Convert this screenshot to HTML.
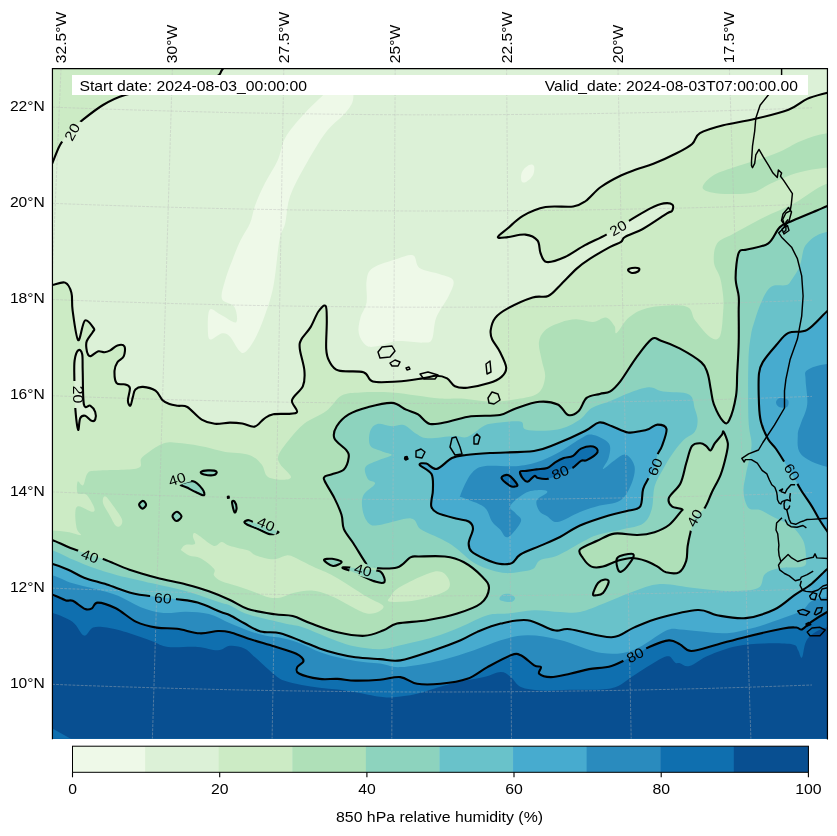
<!DOCTYPE html><html><head><meta charset="utf-8"><style>html,body{margin:0;padding:0;background:#fff;}svg{display:block;will-change:transform;}text{font-family:"Liberation Sans",sans-serif;}</style></head><body>
<svg width="837" height="836" viewBox="0 0 837 836">
<rect width="837" height="836" fill="#fff"/>
<defs><clipPath id="mc"><rect x="52.5" y="68.5" width="774.8" height="670.2"/></clipPath>
<mask id="lm" maskUnits="userSpaceOnUse" x="0" y="0" width="837" height="836"><rect width="837" height="836" fill="#fff"/><rect x="-13" y="-6.5" width="26" height="13" fill="#000" transform="translate(72,132) rotate(-62)"/><rect x="-13" y="-6.5" width="26" height="13" fill="#000" transform="translate(618,228) rotate(-30)"/><rect x="72" y="381" width="5.5" height="27" fill="#000"/><rect x="-13" y="-6.5" width="26" height="13" fill="#000" transform="translate(177,479) rotate(-18)"/><rect x="-13" y="-6.5" width="26" height="13" fill="#000" transform="translate(266,524) rotate(22)"/><rect x="-13" y="-6.5" width="26" height="13" fill="#000" transform="translate(90,556) rotate(20)"/><rect x="-13" y="-6.5" width="26" height="13" fill="#000" transform="translate(363,570) rotate(15)"/><rect x="-13" y="-6.5" width="26" height="13" fill="#000" transform="translate(694.5,518) rotate(-62)"/><rect x="-13" y="-6.5" width="26" height="13" fill="#000" transform="translate(163,598) rotate(5)"/><rect x="-13" y="-6.5" width="26" height="13" fill="#000" transform="translate(655,467) rotate(-68)"/><rect x="-13" y="-6.5" width="26" height="13" fill="#000" transform="translate(792,472) rotate(60)"/><rect x="-13" y="-6.5" width="26" height="13" fill="#000" transform="translate(560.2,472.3) rotate(-22)"/><rect x="-13" y="-6.5" width="26" height="13" fill="#000" transform="translate(635,655) rotate(-27)"/></mask>
</defs>
<g clip-path="url(#mc)">
<rect x="52.5" y="68.5" width="774.8" height="670.2" fill="#ccebc5"/>
<path d="M48.0,172.0C50.0,170.7 50.0,168.5 52.0,164.0C54.0,159.5 57.0,150.5 60.0,145.0C63.0,139.5 66.7,134.8 70.0,131.0C73.3,127.2 74.5,126.3 80.0,122.0C85.5,117.7 95.5,109.5 103.0,105.0C110.5,100.5 115.5,97.8 125.0,95.0C134.5,92.2 145.5,90.8 160.0,88.0C174.5,85.2 201.7,81.0 212.0,78.0C222.3,75.0 219.7,72.7 222.0,70.0C224.3,67.3 225.3,67.0 226.0,62.0C226.7,57.0 120.3,43.7 226.0,40.0C331.7,36.3 754.3,31.5 860.0,40.0C965.7,48.5 864.7,82.5 860.0,91.0C855.3,99.5 837.4,90.7 832.0,91.0C826.6,91.3 831.5,91.4 827.4,92.7C823.3,94.0 813.7,96.1 807.2,98.9C800.7,101.8 797.3,106.4 788.5,109.8C779.7,113.2 765.2,116.5 754.3,119.1C743.4,121.7 732.3,123.0 723.2,125.3C714.1,127.6 705.1,130.0 699.9,133.1C694.7,136.2 696.0,140.6 692.1,144.0C688.2,147.4 682.9,150.1 676.5,153.3C670.1,156.6 660.8,160.8 654.0,163.5C647.2,166.2 641.5,167.5 636.0,169.5C630.5,171.5 626.8,172.6 620.9,175.5C615.0,178.4 606.7,182.8 600.8,187.0C594.9,191.2 590.3,197.8 585.7,201.0C581.1,204.2 579.9,205.5 573.2,206.5C566.5,207.5 553.9,205.4 545.5,207.0C537.1,208.6 529.2,212.2 522.9,215.8C516.6,219.4 512.0,224.8 507.8,228.3C503.6,231.9 497.8,235.6 497.8,237.1C497.8,238.6 503.2,237.5 507.8,237.1C512.4,236.7 520.4,234.0 525.4,234.6C530.4,235.2 535.0,237.4 537.5,240.5C540.0,243.6 539.0,249.4 540.5,253.0C542.0,256.6 542.6,261.3 546.7,262.0C550.8,262.7 558.6,259.8 565.0,257.0C571.4,254.2 578.0,249.0 585.0,245.2C592.0,241.4 599.3,238.5 606.8,234.3C614.3,230.1 623.0,224.4 630.2,220.1C637.5,215.8 644.7,211.2 650.3,208.4C655.9,205.6 660.0,204.0 663.7,203.4C667.4,202.8 671.1,203.4 672.5,204.7C673.9,206.0 672.9,209.6 672.0,211.0C671.1,212.4 671.7,210.5 667.0,213.4C662.3,216.3 650.6,224.6 643.6,228.5C636.6,232.4 629.0,234.7 625.2,236.9C621.4,239.1 623.5,240.2 621.0,241.9C618.5,243.6 615.4,244.1 610.2,246.9C605.1,249.7 595.7,255.0 590.1,258.6C584.5,262.2 581.7,264.1 576.7,268.6C571.7,273.1 564.8,280.8 560.0,285.4C555.2,290.0 552.8,294.0 548.2,296.0C543.6,298.0 539.3,295.4 532.6,297.5C525.9,299.6 514.0,305.0 507.8,308.4C501.6,311.8 498.2,314.2 495.3,317.8C492.4,321.4 491.2,326.6 490.7,330.2C490.2,333.8 490.6,335.9 492.2,339.5C493.8,343.1 497.7,347.3 500.0,352.0C502.3,356.7 505.9,363.4 506.2,367.5C506.4,371.6 504.4,374.3 501.5,376.9C498.6,379.5 494.8,381.3 489.1,383.1C483.4,384.9 473.0,387.2 467.3,387.7C461.6,388.2 458.3,387.8 454.9,386.2C451.5,384.6 450.2,380.1 447.1,378.4C444.0,376.7 440.3,375.8 436.2,375.8C432.1,375.8 429.0,377.4 422.6,378.4C416.2,379.3 406.0,381.0 397.7,381.5C389.4,382.0 378.5,383.1 372.8,381.5C367.1,379.9 369.2,374.0 363.5,372.2C357.8,370.4 344.3,372.4 338.6,370.6C332.9,368.8 331.4,364.9 329.3,361.3C327.2,357.7 326.6,355.6 326.2,348.9C325.8,342.2 326.9,328.1 326.8,320.9C326.7,313.7 327.0,307.5 325.6,305.9C324.2,304.3 320.9,308.0 318.4,311.5C315.9,315.0 313.5,322.4 310.6,327.1C307.8,331.8 303.1,335.9 301.3,339.5C299.5,343.1 299.3,343.7 299.8,348.9C300.3,354.1 303.9,364.4 304.4,370.6C304.9,376.8 305.0,381.3 302.9,386.2C300.8,391.1 293.1,395.8 292.0,400.2C290.9,404.6 299.7,410.3 296.6,412.6C293.5,414.9 278.7,413.2 273.3,414.2C267.9,415.2 267.1,416.7 264.0,418.8C260.9,420.9 258.2,425.8 254.6,426.6C251.0,427.4 246.3,424.2 242.2,423.5C238.1,422.8 234.6,422.6 230.0,422.6C225.4,422.7 219.5,424.3 214.8,423.8C210.1,423.3 206.3,422.4 201.7,419.6C197.1,416.8 191.3,409.3 187.3,407.0C183.3,404.7 180.8,406.3 177.8,405.8C174.8,405.3 172.0,405.0 169.4,404.0C166.8,403.0 164.6,402.1 162.3,399.9C160.0,397.7 158.7,392.9 155.5,390.7C152.3,388.5 146.3,387.1 143.0,386.9C139.7,386.7 137.1,387.7 135.4,389.4C133.7,391.1 133.7,394.2 132.9,396.9C132.1,399.6 131.2,405.1 130.4,405.7C129.6,406.3 128.0,403.6 127.9,400.7C127.8,397.8 130.3,390.8 129.9,388.1C129.5,385.4 127.6,385.2 125.4,384.4C123.2,383.6 118.4,385.4 116.6,383.1C114.8,380.9 114.4,374.4 114.5,370.9C114.6,367.4 115.9,364.6 117.4,362.2C118.9,359.8 122.5,359.0 123.7,356.4C124.9,353.8 125.5,348.2 124.5,346.4C123.5,344.6 119.8,344.7 117.4,345.4C115.0,346.1 112.5,349.3 110.3,350.4C108.1,351.5 106.5,352.0 104.5,352.2C102.5,352.4 100.5,350.7 98.3,351.3C96.1,351.9 92.8,355.3 91.1,355.9C89.4,356.5 89.0,356.1 88.2,354.9C87.4,353.6 86.6,350.7 86.4,348.4C86.2,346.1 85.7,343.7 86.8,341.0C87.9,338.3 91.6,334.1 92.8,332.0C94.0,329.9 95.1,330.3 93.8,328.4C92.5,326.5 87.5,318.6 84.9,320.5C82.3,322.4 80.2,341.8 78.2,340.1C76.2,338.4 73.7,318.2 72.6,310.3C71.5,302.4 72.7,297.3 71.4,292.7C70.2,288.1 68.3,283.9 65.1,282.6C61.9,281.3 55.2,284.6 52.0,285.0C48.8,285.4 48.0,285.0 46.0,285.0C44.0,285.0 41.0,303.8 40.0,285.0C39.0,266.2 38.7,190.8 40.0,172.0C41.3,153.2 46.0,173.3 48.0,172.0Z" fill="#dcf1d7"/>
<path d="M78.4,350.2C79.7,349.1 81.5,350.8 82.2,354.2C82.9,357.6 82.4,362.2 82.7,370.6C83.0,379.0 82.7,398.6 83.9,404.5C85.2,410.4 88.3,404.4 90.2,405.7C92.1,406.9 94.4,409.7 95.2,412.0C96.0,414.3 95.8,418.0 95.2,419.5C94.6,421.0 93.2,421.4 91.5,420.8C89.8,420.2 87.1,416.2 85.2,415.8C83.3,415.4 81.4,416.0 80.2,418.3C79.0,420.6 78.9,431.7 78.1,429.6C77.2,427.5 75.7,413.9 75.1,405.7C74.5,397.5 74.5,388.1 74.4,380.6C74.3,373.1 73.9,365.6 74.6,360.5C75.3,355.4 77.1,351.2 78.4,350.2Z" fill="#dcf1d7"/>
<path d="M628.0,270.0C628.0,269.2 630.2,268.2 632.0,268.0C633.8,267.8 638.0,267.9 639.0,268.5C640.0,269.1 639.2,270.8 638.0,271.5C636.8,272.2 633.7,273.2 632.0,273.0C630.3,272.8 628.0,270.8 628.0,270.0Z" fill="#dcf1d7"/>
<path d="M350.0,88.0C353.8,90.0 353.8,95.9 353.0,100.0C352.2,104.1 350.1,107.3 345.5,112.8C340.9,118.3 332.1,124.1 325.4,132.9C318.7,141.7 311.2,155.0 305.3,165.5C299.4,176.0 293.6,186.1 290.2,195.7C286.8,205.3 287.0,215.9 285.2,223.3C283.4,230.7 281.5,229.4 279.5,240.0C277.5,250.6 275.9,273.7 273.3,286.7C270.7,299.7 267.1,309.0 264.0,317.8C260.9,326.6 257.7,333.8 254.6,339.5C251.5,345.2 247.9,350.2 245.3,352.0C242.7,353.8 241.7,353.0 239.1,350.4C236.5,347.8 232.7,339.2 229.8,336.4C227.0,333.5 225.1,332.8 222.0,333.3C218.9,333.8 213.4,339.5 211.1,339.5C208.8,339.5 208.3,338.2 208.0,333.3C207.7,328.4 207.4,313.1 209.5,310.0C211.6,306.9 216.0,312.5 220.4,314.6C224.8,316.7 233.7,323.7 236.0,322.4C238.3,321.1 236.7,310.8 234.4,306.9C232.1,303.0 223.6,303.5 222.0,299.1C220.4,294.7 223.3,287.1 225.1,280.4C226.9,273.7 230.3,265.4 232.9,258.7C235.5,252.0 237.8,245.9 240.7,240.0C243.5,234.1 247.6,229.0 250.0,223.3C252.4,217.6 252.5,212.4 255.0,205.7C257.5,199.0 261.2,190.6 265.0,183.1C268.8,175.6 274.2,168.0 277.6,160.5C281.0,153.0 281.0,145.4 285.2,137.9C289.4,130.4 296.5,122.4 302.8,115.3C309.1,108.2 318.4,99.8 322.9,95.2C327.4,90.7 325.5,89.2 330.0,88.0C334.5,86.8 346.2,86.0 350.0,88.0Z" fill="#eef9e8"/>
<path d="M366.6,280.4C367.6,274.7 367.6,271.6 372.8,268.0C378.0,264.4 390.9,260.8 397.7,258.7C404.4,256.6 409.7,254.0 413.3,255.6C416.9,257.1 415.1,264.9 419.5,268.0C423.9,271.1 434.4,272.1 440.0,274.2C445.6,276.3 451.9,276.8 453.3,280.4C454.8,284.0 451.6,289.8 448.7,296.0C445.8,302.2 439.0,310.6 436.2,317.8C433.4,325.1 434.2,335.4 431.9,339.5C429.6,343.6 428.3,342.3 422.6,342.6C416.9,342.9 404.9,340.6 397.7,341.1C390.4,341.6 384.3,345.0 379.1,345.8C373.9,346.6 370.0,347.9 366.6,345.8C363.2,343.7 359.8,338.0 358.8,333.3C357.8,328.6 359.1,323.0 360.4,317.8C361.7,312.6 365.6,308.4 366.6,302.2C367.6,296.0 365.6,286.1 366.6,280.4Z" fill="#eef9e8"/>
<path d="M521.5,181.0C520.8,179.3 520.8,174.7 522.0,172.0C523.2,169.3 527.0,166.0 529.0,165.0C531.0,164.0 533.3,164.3 534.0,166.0C534.7,167.7 534.3,172.3 533.0,175.0C531.7,177.7 527.9,181.0 526.0,182.0C524.1,183.0 522.2,182.7 521.5,181.0Z" fill="#eef9e8"/>
<path d="M40.0,530.4C42.0,492.1 47.4,530.1 52.0,530.4C56.6,530.7 62.8,531.2 67.6,532.0C72.4,532.8 79.2,535.6 80.8,535.1C82.3,534.6 77.8,532.5 76.9,528.9C76.0,525.3 75.0,517.1 75.3,513.3C75.5,509.5 75.6,506.6 78.4,506.3C81.2,506.1 89.8,511.7 92.4,511.8C95.0,511.9 95.0,510.0 94.0,507.1C93.0,504.2 88.9,496.9 86.2,494.6C83.5,492.3 79.1,495.3 77.7,493.1C76.3,490.9 76.8,482.7 77.7,481.4C78.6,480.1 81.4,486.7 83.1,485.3C84.8,483.9 85.2,475.4 87.8,472.9C90.4,470.4 90.4,471.3 98.7,470.5C107.0,469.7 130.2,470.4 137.5,468.2C144.8,466.0 137.8,461.4 142.2,457.3C146.6,453.2 157.4,445.6 164.0,443.3C170.6,441.0 175.1,442.7 182.0,443.3C188.9,443.9 198.5,445.7 205.5,447.1C212.5,448.5 216.9,450.5 224.2,451.8C231.5,453.1 242.9,452.8 249.1,454.9C255.3,457.0 258.4,460.6 261.5,464.2C264.6,467.8 264.1,474.1 267.7,476.7C271.3,479.3 279.4,479.8 283.3,479.8C287.2,479.8 291.5,479.3 291.0,476.7C290.5,474.1 282.3,467.8 280.2,464.2C278.1,460.6 277.1,459.0 278.6,454.9C280.2,450.8 285.2,444.5 289.5,439.3C293.8,434.1 298.3,428.2 304.4,423.5C310.5,418.8 320.0,415.8 326.2,411.1C332.4,406.4 336.0,398.6 341.7,395.5C347.4,392.4 352.1,392.9 360.4,392.4C368.7,391.9 382.2,391.9 391.5,392.4C400.8,392.9 408.3,394.5 416.4,395.5C424.5,396.5 432.6,398.1 440.0,398.6C447.4,399.1 452.4,398.1 461.1,398.6C469.8,399.1 482.3,401.7 492.2,401.7C502.1,401.7 512.4,400.2 520.2,398.6C528.0,397.1 534.8,396.0 538.9,392.4C543.0,388.8 544.6,382.1 545.1,376.9C545.6,371.7 543.0,367.0 542.0,361.3C541.0,355.6 538.4,347.8 538.9,342.6C539.4,337.4 541.5,333.6 545.1,330.2C548.7,326.8 555.4,324.2 560.6,322.4C565.8,320.6 570.8,319.4 576.2,319.3C581.6,319.2 588.0,322.3 593.0,322.0C598.0,321.7 602.4,316.8 606.0,317.5C609.6,318.2 612.7,323.4 614.5,326.0C616.3,328.6 614.1,334.5 616.6,333.0C619.1,331.5 623.9,321.2 629.5,317.0C635.1,312.8 640.6,309.3 650.0,307.5C659.4,305.7 678.4,304.2 685.9,306.4C693.4,308.5 691.1,315.2 695.2,320.4C699.3,325.6 706.6,334.9 710.7,337.5C714.9,340.1 718.0,340.4 720.1,336.0C722.2,331.6 722.7,317.7 723.2,311.1C723.7,304.5 723.7,302.0 723.2,296.4C722.7,290.8 721.7,283.4 720.1,277.7C718.5,272.0 714.4,267.9 713.9,262.2C713.4,256.5 713.9,248.2 717.0,243.5C720.1,238.8 724.7,238.5 732.5,234.2C740.3,229.9 753.2,222.7 763.6,217.5C774.0,212.3 784.1,208.7 794.7,203.0C805.3,197.3 816.5,187.3 827.4,183.5C838.3,179.7 854.6,83.9 860.0,180.0C865.4,276.1 996.7,663.3 860.0,760.0C723.3,856.7 176.7,798.3 40.0,760.0C-96.7,721.7 38.0,568.7 40.0,530.4Z" fill="#afe0b8"/>
<path d="M702.6,187.2C702.9,184.3 707.9,178.7 713.9,175.1C719.9,171.5 728.3,169.4 738.7,165.8C749.1,162.2 765.7,157.5 776.1,153.3C786.5,149.2 792.5,144.2 801.0,140.9C809.5,137.6 817.6,134.6 827.4,133.3C837.2,132.0 854.6,127.4 860.0,133.0C865.4,138.6 865.4,161.3 860.0,167.0C854.6,172.7 837.8,166.4 827.4,167.4C817.0,168.4 807.1,170.1 797.7,172.8C788.3,175.5 778.3,180.3 770.8,183.6C763.3,186.9 759.7,190.9 752.9,192.6C746.1,194.3 736.8,194.0 730.0,194.0C723.2,194.0 716.6,193.6 712.0,192.5C707.4,191.4 702.3,190.1 702.6,187.2Z" fill="#afe0b8"/>
<path d="M103.3,497.8C103.8,496.6 104.6,495.4 106.4,497.0C108.2,498.6 111.6,503.4 114.2,507.1C116.8,510.9 121.0,516.4 122.0,519.5C123.0,522.6 121.4,524.8 120.4,525.8C119.4,526.8 117.6,527.6 115.8,525.8C114.0,524.0 111.6,518.5 109.5,514.9C107.4,511.3 104.3,506.9 103.3,504.0C102.3,501.1 102.8,499.0 103.3,497.8Z" fill="#ccebc5"/>
<path d="M181.5,548.7C182.1,547.8 183.1,545.7 185.3,544.9C187.5,544.1 193.6,545.3 194.9,543.9C196.2,542.5 192.8,538.0 192.9,536.3C193.1,534.5 192.9,532.1 195.8,533.4C198.7,534.7 206.8,541.8 210.2,543.9C213.5,546.0 214.0,546.1 215.9,545.8C217.8,545.5 219.7,542.1 221.6,542.0C223.5,541.9 224.8,543.9 227.4,544.9C230.0,545.9 233.4,546.8 236.9,547.7C240.4,548.7 245.2,549.3 248.4,550.6C251.6,551.9 251.8,554.0 256.0,555.4C260.1,556.8 268.2,559.2 273.3,559.2C278.4,559.2 283.1,555.7 286.6,555.4C290.1,555.1 291.4,556.2 294.3,557.3C297.2,558.4 300.3,560.4 303.8,562.1C307.3,563.9 310.4,565.5 315.3,567.8C320.2,570.1 324.9,571.2 333.5,576.0C342.1,580.8 358.5,591.7 366.9,596.8C375.2,601.9 383.6,604.0 383.6,606.8C383.6,609.6 375.2,615.1 366.9,613.5C358.5,611.9 342.4,600.8 333.5,597.0C324.6,593.2 319.9,591.4 313.4,590.7C306.9,590.0 299.7,591.6 294.3,592.7C288.9,593.8 285.0,596.6 280.9,597.4C276.8,598.2 273.5,598.2 269.4,597.4C265.2,596.6 261.4,594.6 256.0,592.7C250.6,590.8 242.6,587.9 236.9,586.0C231.2,584.1 225.4,583.0 221.6,581.2C217.8,579.4 215.3,577.5 214.0,575.4C212.7,573.3 216.2,571.7 214.0,568.8C211.8,565.9 204.8,560.4 200.6,558.2C196.4,556.0 192.3,556.7 189.1,555.4C185.9,554.1 182.8,551.7 181.5,550.6C180.2,549.5 180.9,549.7 181.5,548.7Z" fill="#ccebc5"/>
<path d="M390.3,596.8C392.0,594.3 393.1,591.0 400.4,586.8C407.6,582.6 426.0,573.4 433.8,571.7C441.6,570.0 445.0,573.6 447.2,576.7C449.4,579.8 452.2,586.2 447.2,590.1C442.2,594.0 426.6,598.2 417.1,600.1C407.6,602.0 394.8,602.3 390.3,601.8C385.8,601.2 388.6,599.3 390.3,596.8Z" fill="#ccebc5"/>
<path d="M46.0,540.2C48.1,503.6 49.0,539.1 52.7,540.2C56.4,541.3 62.8,544.9 68.2,547.0C73.6,549.1 79.0,550.9 85.0,553.0C91.0,555.1 97.1,556.7 104.5,559.5C111.9,562.3 120.8,566.7 129.5,569.7C138.2,572.7 147.2,575.2 156.7,577.7C166.1,580.2 177.5,582.2 186.2,584.5C194.9,586.8 201.6,588.7 208.9,591.3C216.2,593.9 223.5,597.0 230.0,600.0C236.5,603.0 240.4,606.6 247.9,609.0C255.4,611.4 267.3,613.1 274.8,614.3C282.3,615.5 286.7,614.6 292.7,616.1C298.7,617.6 303.1,620.6 310.6,623.3C318.1,626.0 328.5,630.2 337.5,632.3C346.5,634.4 356.7,636.1 364.4,635.8C372.1,635.5 378.2,632.3 383.6,630.3C389.0,628.3 389.8,625.3 397.0,623.6C404.2,621.9 417.1,621.9 427.1,620.2C437.1,618.5 448.3,616.3 457.2,613.5C466.1,610.7 475.4,607.7 480.7,603.5C486.0,599.3 488.7,592.9 489.0,588.4C489.3,583.9 486.6,581.1 482.3,576.7C478.1,572.3 469.8,565.4 463.5,562.0C457.2,558.6 452.2,557.4 444.8,556.5C437.4,555.6 424.7,556.4 419.0,556.5C413.3,556.6 414.1,555.6 410.4,557.4C406.7,559.2 403.7,565.8 397.0,567.5C390.3,569.2 375.4,568.3 370.2,567.5C364.9,566.7 368.3,566.7 365.5,562.7C362.7,558.7 357.1,549.1 353.5,543.5C349.9,537.9 345.9,534.0 343.9,529.2C341.9,524.4 343.1,520.0 341.5,514.8C339.9,509.6 337.2,503.7 334.4,498.1C331.6,492.5 326.4,484.9 324.8,481.3C323.2,477.7 323.6,477.8 324.8,476.6C326.0,475.4 328.8,475.4 332.0,474.2C335.2,473.0 341.1,472.2 343.9,469.4C346.7,466.6 348.3,460.6 348.7,457.4C349.1,454.2 348.7,453.4 346.3,450.2C343.9,447.0 336.0,442.3 334.4,438.3C332.8,434.3 334.3,430.3 336.7,426.3C339.1,422.3 343.5,417.6 348.7,414.4C353.9,411.2 360.6,409.1 367.8,407.2C375.0,405.3 385.4,402.5 391.8,402.9C398.2,403.3 401.7,407.7 406.1,409.6C410.5,411.5 414.1,412.0 418.1,414.4C422.1,416.8 424.8,422.7 430.0,423.9C435.2,425.1 442.4,422.8 449.2,421.5C456.0,420.2 462.6,417.4 471.0,416.3C479.4,415.2 492.4,416.3 499.9,415.0C507.3,413.7 509.1,410.6 515.7,408.4C522.3,406.2 532.3,402.4 539.3,401.8C546.3,401.2 552.9,402.3 557.7,404.5C562.5,406.7 564.7,413.9 568.2,415.0C571.7,416.1 575.6,413.9 578.7,411.0C581.8,408.1 583.1,400.8 586.6,397.9C590.1,395.0 595.8,395.0 599.8,393.9C603.8,392.8 606.8,393.4 610.3,391.3C613.8,389.2 616.2,386.7 620.5,381.1C624.8,375.5 630.9,364.8 636.1,357.8C641.3,350.8 647.5,342.0 651.6,339.1C655.8,336.2 656.3,339.1 661.0,340.7C665.7,342.2 672.9,344.8 679.6,348.4C686.3,352.0 696.7,358.2 701.4,362.4C706.1,366.5 706.0,368.9 707.6,373.3C709.2,377.7 709.7,383.7 710.7,388.9C711.8,394.1 711.8,399.0 713.9,404.4C716.0,409.8 720.8,418.9 723.3,421.5C725.8,424.1 727.1,424.6 729.2,420.3C731.3,416.1 734.7,403.8 736.0,396.0C737.3,388.2 736.8,382.3 737.2,373.3C737.7,364.3 738.5,352.6 738.7,342.2C739.0,331.8 738.7,318.7 738.7,311.1C738.7,303.5 739.2,302.0 738.7,296.4C738.2,290.8 735.6,285.0 735.6,277.7C735.6,270.4 736.8,257.5 738.7,252.8C740.6,248.1 742.1,251.0 747.0,249.5C751.9,248.0 762.5,247.3 768.0,243.6C773.5,239.9 775.7,230.9 779.9,227.1C784.1,223.2 786.6,223.3 793.0,220.5C799.4,217.7 812.3,212.4 818.0,210.0C823.7,207.6 824.7,207.2 827.4,206.0C830.1,204.8 828.6,203.5 834.0,203.0C839.4,202.5 855.7,110.2 860.0,203.0C864.3,295.8 996.7,667.2 860.0,760.0C723.3,852.8 175.7,796.6 40.0,760.0C-95.7,723.4 43.9,576.8 46.0,540.2Z" fill="#8dd3be"/>
<path d="M723.5,431.7C724.5,433.1 727.3,439.4 727.8,443.2C728.3,447.0 727.5,449.4 726.3,454.7C725.1,460.0 723.0,468.6 720.6,474.8C718.2,481.0 714.6,486.5 712.0,492.0C709.4,497.5 707.7,503.5 704.8,507.8C701.9,512.1 697.2,513.7 694.8,517.8C692.4,521.9 691.7,527.4 690.5,532.2C689.3,537.0 688.3,541.7 687.6,546.5C686.9,551.3 687.6,556.6 686.2,560.9C684.8,565.2 682.4,570.4 679.0,572.3C675.6,574.2 669.7,573.2 666.1,572.3C662.5,571.3 660.9,568.5 657.5,566.6C654.1,564.7 650.3,562.3 646.0,560.9C641.7,559.5 636.4,558.0 631.6,558.0C626.8,558.0 622.1,559.5 617.3,560.9C612.5,562.3 607.3,565.6 603.0,566.6C598.7,567.6 594.9,568.0 591.5,566.6C588.1,565.2 584.8,560.9 582.9,558.0C581.0,555.1 577.6,552.3 580.0,549.4C582.4,546.5 591.5,543.4 597.2,540.8C602.9,538.2 607.7,534.6 614.4,533.6C621.1,532.6 630.7,535.2 637.4,535.0C644.1,534.8 649.3,533.9 654.6,532.2C659.9,530.5 664.7,528.4 669.0,525.0C673.3,521.6 678.2,514.7 680.4,512.1C682.5,509.5 683.3,510.2 681.9,509.2C680.5,508.2 673.9,508.2 671.8,506.3C669.6,504.4 667.6,501.5 669.0,497.7C670.4,493.9 677.5,489.1 680.4,483.4C683.3,477.7 684.3,469.5 686.2,463.3C688.1,457.1 689.5,449.5 691.9,446.1C694.3,442.8 698.1,443.2 700.5,443.2C702.9,443.2 704.6,444.9 706.3,446.1C708.0,447.3 709.2,450.9 710.6,450.4C712.0,449.9 713.0,445.8 714.9,443.2C716.8,440.6 720.6,436.5 722.0,434.6C723.4,432.7 722.5,430.3 723.5,431.7Z" fill="#afe0b8"/>
<path d="M617.3,558.0C619.4,555.1 629.0,553.7 631.6,553.7C634.2,553.7 634.2,555.4 633.0,558.0C631.8,560.6 626.9,567.4 624.5,569.5C622.1,571.6 619.9,572.8 618.7,570.9C617.5,569.0 615.1,560.9 617.3,558.0Z" fill="#8dd3be"/>
<path d="M593.0,594.0C593.3,592.0 596.0,585.4 598.0,583.0C600.0,580.6 603.2,579.7 605.0,579.5C606.8,579.3 609.0,579.8 608.7,582.0C608.4,584.2 605.1,590.8 603.0,593.0C600.9,595.2 597.7,595.1 596.0,595.3C594.3,595.5 592.7,596.0 593.0,594.0Z" fill="#afe0b8"/>
<path d="M180.6,484.4C181.6,483.4 189.5,480.5 193.1,481.3C196.7,482.1 200.6,486.8 202.4,489.1C204.2,491.4 205.0,494.8 204.0,495.3C203.0,495.8 199.0,493.5 196.2,492.2C193.3,490.9 189.5,488.8 186.9,487.5C184.3,486.2 179.6,485.4 180.6,484.4Z" fill="#8dd3be"/>
<path d="M200.9,472.0C201.6,471.3 205.4,470.5 208.0,470.4C210.6,470.3 215.4,470.7 216.4,471.5C217.4,472.3 216.1,474.6 214.0,475.1C211.9,475.6 206.2,475.0 204.0,474.5C201.8,474.0 200.2,472.7 200.9,472.0Z" fill="#8dd3be"/>
<path d="M139.1,504.5C139.2,503.2 141.8,500.8 143.0,500.9C144.2,500.9 146.2,503.5 146.1,504.8C146.0,506.1 143.7,508.7 142.5,508.6C141.3,508.6 139.0,505.8 139.1,504.5Z" fill="#8dd3be"/>
<path d="M172.5,516.0C172.6,514.5 175.5,511.7 177.0,511.8C178.5,511.9 181.6,515.0 181.5,516.5C181.4,518.0 178.0,521.1 176.5,521.0C175.0,520.9 172.4,517.5 172.5,516.0Z" fill="#8dd3be"/>
<path d="M232.0,502.0C232.0,500.2 233.7,500.5 234.5,501.5C235.3,502.5 236.6,506.2 236.6,508.0C236.6,509.8 235.3,513.4 234.5,512.4C233.7,511.4 232.0,503.8 232.0,502.0Z" fill="#8dd3be"/>
<path d="M244.4,522.0C244.7,521.3 246.7,519.8 249.0,520.2C251.3,520.6 254.5,523.0 258.0,524.5C261.5,526.0 266.6,527.8 270.0,529.0C273.4,530.2 278.6,531.1 278.6,532.0C278.6,532.9 273.4,534.7 270.0,534.2C266.6,533.7 261.8,530.6 258.0,529.0C254.2,527.4 249.3,525.7 247.0,524.5C244.7,523.3 244.1,522.7 244.4,522.0Z" fill="#8dd3be"/>
<path d="M324.0,560.0C323.8,558.8 329.1,558.5 332.0,558.8C334.9,559.1 341.4,560.8 341.6,562.0C341.8,563.2 335.9,566.3 333.0,566.0C330.1,565.7 324.2,561.2 324.0,560.0Z" fill="#8dd3be"/>
<path d="M343.0,567.4C339.9,567.9 350.5,570.6 356.0,573.0C361.5,575.4 371.2,580.3 376.0,581.8C380.8,583.3 383.6,583.3 384.6,581.8C385.6,580.3 383.5,574.9 381.8,573.0C380.1,571.1 381.1,571.2 374.6,570.3C368.1,569.4 346.1,566.9 343.0,567.4Z" fill="#8dd3be"/>
<path d="M405.0,458.0C405.2,457.6 406.2,456.8 406.5,457.0C406.8,457.2 407.2,458.6 407.0,459.0C406.8,459.4 405.8,459.7 405.5,459.5C405.2,459.3 404.8,458.4 405.0,458.0Z" fill="#8dd3be"/>
<path d="M370.2,431.1C371.4,427.5 373.8,424.7 377.4,423.9C381.0,423.1 387.4,426.1 391.8,426.3C396.2,426.5 399.7,423.9 403.7,425.1C407.7,426.3 411.7,431.3 415.7,433.5C419.7,435.7 421.3,437.9 427.7,438.3C434.1,438.7 447.4,436.1 454.0,435.9C460.6,435.7 462.5,438.6 467.3,437.0C472.1,435.4 478.8,428.9 482.9,426.6C487.0,424.4 486.0,424.4 492.2,423.5C498.4,422.6 514.5,420.5 520.2,421.5C525.9,422.5 520.1,428.4 526.4,429.7C532.6,431.0 548.9,431.0 557.7,429.4C566.5,427.8 573.6,423.6 579.3,420.0C585.0,416.4 586.5,411.2 591.7,408.0C596.9,404.8 604.2,403.5 610.4,401.0C616.6,398.5 622.7,395.3 629.1,393.0C635.5,390.7 643.2,387.5 648.9,387.3C654.6,387.1 656.5,390.4 663.2,391.6C669.9,392.8 683.7,391.5 689.0,394.4C694.3,397.3 693.4,404.5 694.8,408.8C696.2,413.1 697.6,416.5 697.6,420.3C697.6,424.1 697.2,428.4 694.8,431.7C692.4,435.0 687.1,436.5 683.3,440.3C679.5,444.1 675.1,449.9 671.8,454.7C668.4,459.5 666.1,463.7 663.2,469.0C660.3,474.3 656.5,479.6 654.6,486.3C652.7,493.0 653.6,503.0 651.7,509.2C649.8,515.4 647.9,520.2 643.1,523.6C638.3,527.0 630.6,527.4 623.0,529.3C615.4,531.2 603.7,533.0 597.2,535.0C590.7,537.0 590.6,537.7 584.0,541.1C577.4,544.5 565.0,552.4 557.7,555.6C550.4,558.8 544.1,558.0 540.0,560.2C535.9,562.4 536.6,566.9 533.3,568.8C530.0,570.7 524.9,571.0 520.4,571.7C515.9,572.4 510.8,573.3 506.0,573.1C501.2,572.9 496.0,571.5 491.7,570.3C487.4,569.1 483.8,567.7 480.2,566.0C476.6,564.3 473.8,562.8 470.2,560.2C466.6,557.6 462.3,553.1 458.7,550.2C455.1,547.3 452.8,545.4 448.7,543.0C444.6,540.6 439.1,538.2 434.3,535.8C429.5,533.4 423.9,531.6 420.0,528.7C416.1,525.8 417.2,519.1 410.9,518.4C404.6,517.7 389.0,523.4 382.2,524.4C375.4,525.4 373.4,526.4 370.2,524.4C367.0,522.4 364.3,517.2 363.1,512.4C361.9,507.6 361.1,500.5 363.1,495.7C365.1,490.9 374.2,486.5 375.0,483.7C375.8,480.9 369.4,481.8 367.8,479.0C366.2,476.2 363.5,470.2 365.5,467.0C367.5,463.8 375.4,461.8 379.8,459.8C384.2,457.8 391.4,456.4 391.8,455.0C392.2,453.6 385.8,453.0 382.2,451.4C378.6,449.8 372.2,448.9 370.2,445.5C368.2,442.1 369.0,434.7 370.2,431.1Z" fill="#69c2ca"/>
<path d="M500.0,600.0C498.5,598.8 500.3,596.0 502.0,595.0C503.7,594.0 507.8,593.5 510.0,594.0C512.2,594.5 514.8,596.7 515.0,598.0C515.2,599.3 513.5,601.7 511.0,602.0C508.5,602.3 501.5,601.2 500.0,600.0Z" fill="#69c2ca"/>
<path d="M40.0,550.4C42.1,515.5 47.2,548.9 52.7,550.4C58.2,551.9 65.6,556.5 72.7,559.5C79.8,562.5 87.8,566.0 95.4,568.6C103.0,571.2 108.6,573.0 118.1,575.4C127.6,577.8 140.8,580.6 152.2,583.3C163.5,585.9 174.8,588.1 186.2,591.3C197.5,594.5 213.0,600.2 220.3,602.6C227.6,605.0 225.4,603.5 230.0,605.4C234.6,607.3 238.9,611.3 247.9,614.3C256.9,617.3 274.8,621.2 283.8,623.3C292.8,625.4 295.7,625.1 301.7,626.9C307.7,628.7 313.6,631.6 319.6,634.0C325.6,636.4 331.5,639.1 337.5,641.2C343.5,643.3 348.3,645.2 355.4,646.6C362.5,648.0 372.5,649.5 380.0,649.3C387.5,649.1 391.4,647.3 400.4,645.3C409.4,643.2 423.8,640.1 433.8,637.0C443.8,633.9 451.7,630.5 460.6,626.9C469.5,623.3 479.6,617.4 487.4,615.2C495.2,613.0 499.6,614.3 507.4,613.5C515.2,612.7 525.4,610.5 534.2,610.2C543.0,610.0 552.4,611.7 560.0,612.0C567.6,612.3 572.5,613.5 580.0,612.0C587.5,610.5 596.3,606.3 605.0,603.0C613.7,599.7 622.8,595.2 632.0,592.0C641.2,588.8 649.7,584.7 660.0,584.0C670.3,583.3 682.4,586.8 694.0,588.0C705.6,589.2 718.8,591.0 729.5,591.0C740.2,591.0 752.1,590.8 758.0,588.0C763.9,585.2 761.3,577.3 765.0,574.0C768.7,570.7 773.6,569.3 780.0,568.0C786.4,566.7 798.8,568.1 803.1,566.4C807.4,564.7 806.0,562.1 806.0,557.8C806.0,553.5 805.5,545.9 803.1,540.6C800.7,535.3 796.4,530.0 791.6,526.2C786.8,522.4 779.6,520.3 774.4,517.6C769.1,514.9 764.4,511.6 760.1,510.0C755.8,508.4 751.4,511.0 748.6,508.0C745.8,505.0 743.9,497.7 743.5,492.0C743.1,486.3 744.7,481.7 746.0,474.0C747.3,466.3 751.1,455.0 751.5,446.0C751.9,437.0 749.0,434.1 748.5,420.0C748.0,405.9 748.0,375.8 748.4,361.6C748.8,347.4 749.9,341.9 751.0,335.0C752.1,328.1 753.4,325.1 754.9,320.0C756.4,314.9 758.2,309.4 760.2,304.7C762.2,300.0 764.5,294.8 766.7,291.6C768.9,288.4 770.0,286.8 773.3,285.7C776.6,284.6 783.4,286.0 786.5,285.0C789.6,284.0 789.5,282.8 791.7,279.7C793.9,276.6 797.6,271.6 799.6,266.6C801.6,261.6 802.3,253.4 803.6,249.5C804.9,245.6 805.5,245.1 807.5,242.9C809.5,240.7 812.1,238.2 815.4,236.3C818.7,234.4 820.0,233.6 827.4,231.7C834.8,229.8 854.6,137.0 860.0,225.0C865.4,313.0 996.7,670.8 860.0,760.0C723.3,849.2 176.7,794.9 40.0,760.0C-96.7,725.1 37.9,585.3 40.0,550.4Z" fill="#69c2ca"/>
<path d="M419.7,464.9C418.8,463.1 423.4,462.9 426.3,463.6C429.2,464.3 432.5,469.8 436.8,468.9C441.1,468.0 447.1,460.3 452.0,458.0C456.9,455.7 459.7,455.8 466.0,455.0C472.3,454.2 478.7,453.7 490.0,453.0C501.3,452.3 523.0,452.5 534.0,451.0C545.0,449.5 547.5,447.3 556.0,444.0C564.5,440.7 577.8,434.6 585.0,431.0C592.2,427.4 594.5,423.3 599.0,422.5C603.5,421.7 607.2,424.6 612.0,426.3C616.8,428.0 623.2,431.7 628.0,432.5C632.8,433.3 637.5,431.6 641.0,431.0C644.5,430.4 646.2,430.0 649.0,428.9C651.8,427.8 654.6,424.6 657.5,424.6C660.4,424.6 665.8,425.4 666.5,429.0C667.2,432.6 663.5,441.7 662.0,446.0C660.5,450.3 658.7,451.1 657.5,454.7C656.3,458.3 656.0,463.8 654.6,467.6C653.2,471.4 650.8,474.0 648.9,477.6C647.0,481.2 644.5,484.3 643.1,489.1C641.7,493.9 642.7,502.7 640.3,506.3C637.9,509.9 634.1,509.1 628.8,510.6C623.5,512.1 616.8,513.0 608.7,515.5C600.6,518.0 588.1,521.9 580.0,525.5C571.9,529.1 566.7,533.6 560.0,537.0C553.3,540.4 546.6,543.0 540.0,545.9C533.4,548.8 525.1,551.6 520.4,554.5C515.7,557.4 515.4,561.6 511.8,563.1C508.2,564.6 503.4,564.5 498.9,563.8C494.3,563.1 489.1,560.8 484.5,558.8C479.9,556.8 474.2,554.2 471.6,551.6C469.0,549.0 468.5,546.8 468.7,543.0C468.9,539.2 473.0,532.3 473.0,528.7C473.0,525.1 471.6,523.2 468.7,521.5C465.8,519.8 461.1,520.0 455.8,518.6C450.6,517.2 441.2,514.8 437.2,512.9C433.1,511.0 432.4,509.3 431.5,507.2C430.6,505.1 431.3,502.9 431.5,500.0C431.7,497.1 432.9,494.2 432.9,489.9C432.9,485.6 433.7,478.3 431.5,474.1C429.3,469.9 420.6,466.6 419.7,464.9Z" fill="#47abcf"/>
<path d="M834.0,309.0C828.6,310.8 831.9,307.5 827.4,311.0C822.9,314.5 813.7,326.2 807.2,329.8C800.7,333.4 793.7,330.3 788.5,332.9C783.3,335.5 780.2,340.6 776.1,345.3C772.0,350.0 766.5,356.2 763.6,360.9C760.8,365.6 759.8,366.1 759.0,373.3C758.2,380.6 758.7,396.3 759.0,404.4C759.3,412.5 759.5,416.2 761.0,422.0C762.5,427.8 765.5,434.5 768.0,439.0C770.5,443.5 773.3,445.0 776.1,449.0C778.9,453.0 782.4,458.8 785.0,463.0C787.6,467.2 789.3,469.5 792.0,474.0C794.7,478.5 797.7,484.6 801.0,490.0C804.3,495.4 808.7,501.3 811.7,506.1C814.7,510.9 816.5,514.9 819.0,519.0C821.5,523.1 824.5,527.5 827.0,531.0C829.5,534.5 828.5,538.5 834.0,540.0C839.5,541.5 855.7,580.0 860.0,540.0C864.3,500.0 864.3,338.5 860.0,300.0C855.7,261.5 839.4,307.2 834.0,309.0Z" fill="#47abcf"/>
<path d="M46.0,564.0C48.1,531.3 49.0,563.0 52.7,564.0C56.4,565.0 63.0,567.4 68.2,569.7C73.4,572.0 77.7,575.2 84.1,577.7C90.5,580.2 99.2,582.0 106.8,584.5C114.4,587.0 122.7,590.5 129.5,592.4C136.3,594.3 142.0,594.9 147.6,595.8C153.2,596.6 158.1,596.9 163.0,597.5C167.9,598.1 171.3,598.4 177.1,599.2C182.9,600.1 190.4,600.5 197.6,602.6C204.8,604.7 214.9,609.6 220.3,611.7C225.7,613.8 226.0,613.3 230.0,615.2C234.0,617.1 239.2,620.6 244.3,623.3C249.4,626.0 254.5,629.8 260.5,631.4C266.5,633.0 273.3,631.6 280.2,633.2C287.1,634.8 295.1,638.7 301.7,641.2C308.3,643.7 313.6,646.3 319.6,648.4C325.6,650.5 331.5,652.3 337.5,653.8C343.5,655.3 348.3,656.4 355.4,657.3C362.5,658.2 372.5,658.6 380.0,659.1C387.5,659.6 391.4,661.9 400.4,660.4C409.4,658.9 423.8,653.6 433.8,650.3C443.8,646.9 453.4,643.4 460.6,640.3C467.9,637.2 470.6,634.7 477.3,631.9C484.0,629.1 492.3,625.5 500.7,623.6C509.1,621.7 518.6,619.1 527.5,620.2C536.4,621.3 547.2,628.8 554.3,630.3C561.4,631.8 560.5,628.1 570.0,629.2C579.5,630.4 600.9,637.5 611.5,637.2C622.1,636.9 625.8,630.8 633.8,627.6C641.8,624.4 648.7,620.9 659.3,618.0C669.9,615.1 688.0,610.5 697.6,610.0C707.2,609.5 709.0,613.9 717.0,615.2C725.0,616.6 736.1,619.1 745.7,618.1C755.3,617.1 766.3,613.3 774.4,609.5C782.5,605.7 788.3,599.4 794.5,595.1C800.7,590.8 806.3,588.0 811.7,583.7C817.1,579.4 823.3,572.4 827.0,569.3C830.7,566.2 828.5,565.7 834.0,565.0C839.5,564.3 855.7,532.5 860.0,565.0C864.3,597.5 996.7,727.5 860.0,760.0C723.3,792.5 175.7,792.7 40.0,760.0C-95.7,727.3 43.9,596.7 46.0,564.0Z" fill="#47abcf"/>
<path d="M460.5,495.1C461.8,491.2 467.1,478.9 471.0,474.1C474.9,469.3 476.7,467.5 484.1,466.2C491.6,464.9 506.9,466.8 515.7,466.2C524.5,465.6 529.7,464.5 536.7,462.3C543.7,460.1 550.5,457.0 557.7,453.1C564.9,449.2 574.4,442.1 580.0,439.0C585.6,435.9 586.7,433.9 591.5,434.6C596.3,435.3 605.8,439.4 608.7,443.2C611.6,447.0 609.7,453.3 608.7,457.6C607.8,461.9 602.0,468.5 603.0,469.0C604.0,469.5 610.6,462.8 614.4,460.4C618.2,458.0 622.5,453.7 625.9,454.7C629.2,455.7 633.5,461.4 634.5,466.2C635.5,471.0 634.0,477.7 631.6,483.4C629.2,489.1 625.9,496.8 620.2,500.6C614.5,504.4 603.9,504.4 597.2,506.3C590.5,508.2 586.6,509.4 580.0,512.0C573.4,514.6 563.2,521.3 557.7,522.0C552.2,522.7 550.3,518.1 547.2,516.2C544.1,514.4 541.0,513.5 539.3,510.9C537.5,508.3 535.4,503.5 536.7,500.4C538.0,497.3 546.3,494.2 547.2,492.5C548.1,490.8 545.4,489.9 541.9,489.9C538.4,489.9 531.5,489.9 526.2,492.5C521.0,495.1 512.1,502.2 510.4,505.7C508.6,509.2 514.0,510.9 515.7,513.5C517.5,516.1 522.2,517.4 520.9,521.4C519.6,525.4 511.3,535.9 507.8,537.2C504.3,538.5 502.5,531.9 499.9,529.3C497.3,526.7 494.6,525.1 492.0,521.4C489.4,517.7 488.9,510.9 484.1,507.0C479.3,503.1 467.0,499.8 463.1,497.8C459.2,495.8 459.2,499.1 460.5,495.1Z" fill="#2a8bbe"/>
<path d="M860.0,364.0C854.5,346.3 835.8,363.0 827.0,364.0C818.2,365.0 810.8,367.6 807.2,370.2C803.6,372.8 805.6,373.8 805.6,379.5C805.6,385.2 808.0,397.1 807.2,404.4C806.4,411.7 802.6,417.9 801.0,423.1C799.4,428.3 797.8,430.3 797.8,435.5C797.8,440.7 796.3,449.0 801.0,454.2C805.7,459.4 816.0,464.0 825.8,466.6C835.6,469.2 854.3,487.1 860.0,470.0C865.7,452.9 865.5,381.7 860.0,364.0Z" fill="#2a8bbe"/>
<path d="M776.0,402.0C776.2,400.5 778.0,398.3 780.0,398.0C782.0,397.7 786.8,398.5 788.0,400.0C789.2,401.5 788.5,405.8 787.0,407.0C785.5,408.2 780.8,407.8 779.0,407.0C777.2,406.2 775.8,403.5 776.0,402.0Z" fill="#2a8bbe"/>
<path d="M40.0,575.4C42.1,544.6 47.2,574.1 52.7,575.4C58.2,576.7 65.6,581.0 72.7,583.3C79.8,585.6 87.8,586.9 95.4,589.0C103.0,591.1 110.5,592.8 118.1,595.8C125.7,598.8 133.2,604.4 140.8,607.2C148.4,610.1 155.9,612.1 163.5,612.9C171.1,613.6 178.6,611.5 186.2,611.7C193.8,611.9 201.6,612.1 208.9,614.0C216.2,615.9 223.5,620.5 230.0,623.3C236.5,626.0 241.9,628.4 247.9,630.5C253.9,632.6 259.8,634.5 265.8,635.8C271.8,637.1 277.8,637.1 283.8,638.5C289.8,639.9 295.7,641.6 301.7,643.9C307.7,646.1 313.6,649.8 319.6,652.0C325.6,654.2 331.5,655.8 337.5,657.3C343.5,658.8 348.3,659.8 355.4,660.9C362.5,662.0 372.5,662.6 380.0,663.6C387.5,664.6 390.3,667.6 400.4,667.1C410.5,666.6 428.2,663.2 440.5,660.4C452.8,657.6 464.0,653.6 474.0,650.3C484.0,646.9 491.8,642.8 500.7,640.3C509.6,637.8 517.6,635.3 527.5,635.3C537.4,635.2 547.6,637.0 560.0,640.0C572.4,643.0 589.6,651.5 601.9,653.1C614.2,654.8 623.2,653.6 633.8,649.9C644.4,646.2 658.0,634.2 665.7,630.8C673.4,627.4 674.5,629.3 680.0,629.4C685.5,629.5 691.0,630.7 698.8,631.3C706.6,631.9 717.5,633.8 726.9,633.2C736.3,632.6 745.6,630.0 755.0,627.5C764.4,625.0 775.4,620.9 783.2,618.1C791.0,615.3 797.3,613.4 802.0,610.6C806.7,607.8 807.2,603.5 811.3,601.3C815.3,599.1 818.2,598.5 826.3,597.5C834.4,596.5 854.4,567.9 860.0,595.0C865.6,622.1 996.7,732.5 860.0,760.0C723.3,787.5 176.7,790.8 40.0,760.0C-96.7,729.2 37.9,606.2 40.0,575.4Z" fill="#2a8bbe"/>
<path d="M520.1,471.6C519.5,472.9 521.7,477.0 523.0,478.7C524.3,480.4 526.1,482.1 528.0,481.6C529.9,481.1 532.7,476.5 534.4,475.9C536.1,475.3 535.7,477.5 538.0,478.0C540.3,478.5 544.3,479.4 548.0,478.7C551.7,478.0 555.9,475.8 560.0,474.0C564.1,472.2 568.9,470.2 572.4,468.0C575.9,465.8 578.6,462.1 581.0,460.8C583.4,459.5 584.0,461.5 586.8,460.1C589.5,458.7 596.4,454.5 597.5,452.2C598.6,449.9 596.0,447.1 593.2,446.5C590.5,445.9 584.4,447.1 581.0,448.6C577.6,450.2 576.0,454.2 573.1,455.8C570.2,457.4 566.8,456.9 563.8,458.0C560.8,459.1 558.0,460.6 555.2,462.3C552.5,464.0 550.4,466.8 547.3,468.0C544.2,469.2 540.1,468.9 536.6,469.4C533.1,469.9 529.2,470.5 526.5,470.9C523.8,471.3 520.7,470.3 520.1,471.6Z" fill="#0f6faf"/>
<path d="M501.5,478.0C501.2,476.2 506.0,474.1 508.6,475.2C511.2,476.3 516.2,482.6 517.2,484.5C518.2,486.4 515.6,486.4 514.4,486.6C513.2,486.8 512.2,487.3 510.1,485.9C508.0,484.5 501.8,479.8 501.5,478.0Z" fill="#0f6faf"/>
<path d="M46.0,594.7C48.1,567.2 49.4,593.8 52.7,594.7C56.0,595.7 62.6,599.4 65.9,600.4C69.2,601.4 69.5,599.4 72.7,600.8C75.9,602.2 82.0,607.8 85.2,609.0C88.4,610.2 89.9,609.4 92.0,608.3C94.1,607.2 93.7,602.6 97.7,602.6C101.7,602.6 109.4,605.1 115.8,608.3C122.2,611.5 129.5,618.7 136.3,621.9C143.1,625.1 149.9,626.5 156.7,627.6C163.5,628.8 169.9,627.8 177.1,628.8C184.3,629.8 193.0,632.9 199.8,633.3C206.6,633.7 213.0,631.2 218.0,631.0C223.0,630.8 225.0,631.0 230.0,632.3C235.0,633.5 240.4,636.1 247.9,638.5C255.4,640.9 266.7,644.1 274.8,646.6C282.9,649.1 291.5,651.4 296.3,653.8C301.1,656.2 303.4,658.7 303.5,660.9C303.6,663.1 297.9,665.1 297.2,667.2C296.4,669.3 295.3,671.5 299.0,673.5C302.7,675.5 313.2,678.0 319.6,678.9C326.0,679.8 331.5,678.6 337.5,678.9C343.5,679.2 348.3,680.5 355.4,680.6C362.5,680.7 372.5,680.3 380.0,679.7C387.5,679.1 394.2,676.4 400.4,677.1C406.6,677.8 410.4,682.7 417.1,683.8C423.8,684.9 432.1,684.6 440.5,683.8C448.9,683.0 459.5,681.6 467.3,678.8C475.1,676.0 480.1,671.0 487.4,667.1C494.6,663.2 505.2,657.3 510.8,655.3C516.4,653.3 516.9,653.6 520.8,655.3C524.7,657.0 530.9,663.4 534.2,665.4C537.6,667.4 540.1,665.7 540.9,667.1C541.7,668.5 537.5,672.1 539.2,673.8C540.9,675.5 545.8,677.1 550.9,677.1C556.0,677.1 563.6,675.1 570.0,673.8C576.4,672.5 582.2,670.4 589.1,669.1C596.0,667.8 603.8,668.3 611.5,665.9C619.2,663.5 629.0,657.9 635.4,654.7C641.8,651.5 644.1,649.1 649.7,646.7C655.3,644.3 663.9,640.8 668.9,640.4C673.9,640.0 676.3,642.6 680.0,644.4C683.7,646.2 685.0,651.0 691.3,651.0C697.5,651.0 708.4,646.8 717.5,644.4C726.6,642.0 734.8,639.5 745.7,636.9C756.7,634.2 774.8,630.1 783.2,628.5C791.6,626.9 793.2,627.4 796.3,627.5C799.4,627.6 799.5,630.3 802.0,629.4C804.5,628.5 807.2,624.7 811.3,621.9C815.3,619.1 822.5,614.6 826.3,612.5C830.1,610.4 828.4,609.6 834.0,609.0C839.6,608.4 855.7,583.8 860.0,609.0C864.3,634.2 996.7,734.8 860.0,760.0C723.3,785.2 175.7,787.5 40.0,760.0C-95.7,732.5 43.9,622.2 46.0,594.7Z" fill="#0f6faf"/>
<path d="M40.0,612.9C42.1,588.4 47.2,611.4 52.7,612.9C58.2,614.4 67.5,618.1 72.7,621.9C77.9,625.7 80.7,634.6 84.1,635.6C87.5,636.6 89.3,628.9 93.1,627.6C96.9,626.3 100.7,626.7 106.8,627.6C112.9,628.5 121.9,631.0 129.5,633.3C137.1,635.6 145.8,638.9 152.2,641.2C158.6,643.5 160.4,646.0 168.0,646.9C175.6,647.8 189.3,646.3 197.6,646.9C205.9,647.5 212.6,650.5 218.0,650.3C223.4,650.1 225.6,646.0 230.0,645.7C234.4,645.4 240.1,646.5 244.3,648.4C248.5,650.3 250.3,653.1 255.1,657.3C259.9,661.5 268.2,669.6 273.0,673.5C277.8,677.4 279.0,678.7 283.8,680.6C288.6,682.5 295.7,683.9 301.7,685.1C307.7,686.3 313.6,687.0 319.6,687.8C325.6,688.5 331.5,688.9 337.5,689.6C343.5,690.4 348.3,691.1 355.4,692.3C362.5,693.5 373.6,696.0 380.0,696.8C386.4,697.6 387.5,697.7 393.7,697.2C399.9,696.7 407.6,696.0 417.1,693.8C426.6,691.6 439.4,686.6 450.5,683.8C461.6,681.0 475.6,679.0 484.0,677.1C492.4,675.2 496.2,672.1 500.7,672.1C505.2,672.1 507.5,674.6 510.8,677.1C514.1,679.6 515.8,684.9 520.8,687.1C525.8,689.3 532.7,690.0 540.9,690.5C549.1,691.0 558.2,690.2 570.0,689.8C581.8,689.4 600.9,690.6 611.5,688.2C622.1,685.8 625.8,680.2 633.8,675.4C641.8,670.6 653.4,662.7 659.3,659.5C665.1,656.3 666.2,655.8 668.9,656.3C671.6,656.8 673.4,661.6 675.3,662.7C677.1,663.9 677.6,662.7 680.0,663.2C682.4,663.8 684.7,667.2 689.4,666.0C694.1,664.8 700.3,659.0 708.1,655.7C715.9,652.4 726.9,648.3 736.3,646.3C745.7,644.3 755.0,643.8 764.4,643.5C773.8,643.2 787.0,643.3 792.6,644.4C798.2,645.5 796.4,647.8 798.0,650.0C799.6,652.2 800.4,659.4 802.0,657.5C803.6,655.6 803.6,643.8 807.6,638.8C811.6,633.8 817.6,629.8 826.3,627.5C835.0,625.2 854.4,602.9 860.0,625.0C865.6,647.1 996.7,737.5 860.0,760.0C723.3,782.5 176.7,784.5 40.0,760.0C-96.7,735.5 37.9,637.4 40.0,612.9Z" fill="#084f91"/>
<path d="M40.0,728.6 L52.5,728.6 L70.7,738.7 L75.0,745.0 L40.0,745.0Z" fill="#0f6faf"/>
<g fill="none" stroke="#b8b8b8" stroke-opacity="0.55" stroke-width="0.75" stroke-dasharray="2.9,1.2"><line x1="-50.4" y1="68.5" x2="-87.0" y2="738.7"/><line x1="61.0" y1="68.5" x2="32.7" y2="738.7"/><line x1="172.4" y1="68.5" x2="152.4" y2="738.7"/><line x1="283.8" y1="68.5" x2="272.1" y2="738.7"/><line x1="395.2" y1="68.5" x2="391.8" y2="738.7"/><line x1="506.6" y1="68.5" x2="511.5" y2="738.7"/><line x1="618.0" y1="68.5" x2="631.2" y2="738.7"/><line x1="729.4" y1="68.5" x2="750.9" y2="738.7"/><line x1="840.8" y1="68.5" x2="870.6" y2="738.7"/><polyline points="52,10.9 72,11.7 92,12.4 112,13.1 132,13.7 152,14.3 172,14.9 192,15.4 212,15.9 232,16.4 252,16.8 272,17.1 292,17.5 312,17.7 332,18.0 352,18.2 372,18.4 392,18.5 412,18.6 432,18.6 452,18.6 472,18.5 492,18.5 512,18.3 532,18.2 552,18.0 572,17.7 592,17.4 612,17.1 632,16.7 652,16.3 672,15.9 692,15.4 712,14.9 732,14.3 752,13.7 772,13.0 792,12.3 812,11.6"/><polyline points="52,107.1 72,107.9 92,108.6 112,109.3 132,109.9 152,110.5 172,111.1 192,111.6 212,112.1 232,112.6 252,113.0 272,113.3 292,113.7 312,113.9 332,114.2 352,114.4 372,114.6 392,114.7 412,114.8 432,114.8 452,114.8 472,114.7 492,114.7 512,114.5 532,114.4 552,114.2 572,113.9 592,113.6 612,113.3 632,112.9 652,112.5 672,112.1 692,111.6 712,111.1 732,110.5 752,109.9 772,109.2 792,108.5 812,107.8"/><polyline points="52,203.3 72,204.1 92,204.8 112,205.5 132,206.1 152,206.7 172,207.3 192,207.8 212,208.3 232,208.8 252,209.2 272,209.5 292,209.9 312,210.1 332,210.4 352,210.6 372,210.8 392,210.9 412,211.0 432,211.0 452,211.0 472,210.9 492,210.9 512,210.7 532,210.6 552,210.4 572,210.1 592,209.8 612,209.5 632,209.1 652,208.7 672,208.3 692,207.8 712,207.3 732,206.7 752,206.1 772,205.4 792,204.7 812,204.0"/><polyline points="52,299.5 72,300.3 92,301.0 112,301.7 132,302.3 152,302.9 172,303.5 192,304.0 212,304.5 232,305.0 252,305.4 272,305.7 292,306.1 312,306.3 332,306.6 352,306.8 372,307.0 392,307.1 412,307.2 432,307.2 452,307.2 472,307.1 492,307.1 512,306.9 532,306.8 552,306.6 572,306.3 592,306.0 612,305.7 632,305.3 652,304.9 672,304.5 692,304.0 712,303.5 732,302.9 752,302.3 772,301.6 792,300.9 812,300.2"/><polyline points="52,395.7 72,396.5 92,397.2 112,397.9 132,398.5 152,399.1 172,399.7 192,400.2 212,400.7 232,401.2 252,401.6 272,401.9 292,402.3 312,402.5 332,402.8 352,403.0 372,403.2 392,403.3 412,403.4 432,403.4 452,403.4 472,403.3 492,403.3 512,403.1 532,403.0 552,402.8 572,402.5 592,402.2 612,401.9 632,401.5 652,401.1 672,400.7 692,400.2 712,399.7 732,399.1 752,398.5 772,397.8 792,397.1 812,396.4"/><polyline points="52,491.9 72,492.7 92,493.4 112,494.1 132,494.7 152,495.3 172,495.9 192,496.4 212,496.9 232,497.4 252,497.8 272,498.1 292,498.5 312,498.7 332,499.0 352,499.2 372,499.4 392,499.5 412,499.6 432,499.6 452,499.6 472,499.5 492,499.5 512,499.3 532,499.2 552,499.0 572,498.7 592,498.4 612,498.1 632,497.7 652,497.3 672,496.9 692,496.4 712,495.9 732,495.3 752,494.7 772,494.0 792,493.3 812,492.6"/><polyline points="52,588.1 72,588.9 92,589.6 112,590.3 132,590.9 152,591.5 172,592.1 192,592.6 212,593.1 232,593.6 252,594.0 272,594.3 292,594.7 312,594.9 332,595.2 352,595.4 372,595.6 392,595.7 412,595.8 432,595.8 452,595.8 472,595.7 492,595.7 512,595.5 532,595.4 552,595.2 572,594.9 592,594.6 612,594.3 632,593.9 652,593.5 672,593.1 692,592.6 712,592.1 732,591.5 752,590.9 772,590.2 792,589.5 812,588.8"/><polyline points="52,684.3 72,685.1 92,685.8 112,686.5 132,687.1 152,687.7 172,688.3 192,688.8 212,689.3 232,689.8 252,690.2 272,690.5 292,690.9 312,691.1 332,691.4 352,691.6 372,691.8 392,691.9 412,692.0 432,692.0 452,692.0 472,691.9 492,691.9 512,691.7 532,691.6 552,691.4 572,691.1 592,690.8 612,690.5 632,690.1 652,689.7 672,689.3 692,688.8 712,688.3 732,687.7 752,687.1 772,686.4 792,685.7 812,685.0"/><polyline points="52,780.5 72,781.3 92,782.0 112,782.7 132,783.3 152,783.9 172,784.5 192,785.0 212,785.5 232,786.0 252,786.4 272,786.7 292,787.1 312,787.3 332,787.6 352,787.8 372,788.0 392,788.1 412,788.2 432,788.2 452,788.2 472,788.1 492,788.1 512,787.9 532,787.8 552,787.6 572,787.3 592,787.0 612,786.7 632,786.3 652,785.9 672,785.5 692,785.0 712,784.5 732,783.9 752,783.3 772,782.6 792,781.9 812,781.2"/></g>
<g fill="none" stroke="#000" stroke-linejoin="round" stroke-linecap="round" mask="url(#lm)">
<path d="M48.0,172.0C48.7,170.7 50.0,168.5 52.0,164.0C54.0,159.5 57.0,150.5 60.0,145.0C63.0,139.5 66.7,134.8 70.0,131.0C73.3,127.2 74.5,126.3 80.0,122.0C85.5,117.7 95.5,109.5 103.0,105.0C110.5,100.5 115.5,97.8 125.0,95.0C134.5,92.2 145.5,90.8 160.0,88.0C174.5,85.2 201.7,81.0 212.0,78.0C222.3,75.0 219.7,72.7 222.0,70.0C224.3,67.3 225.3,63.3 226.0,62.0" stroke-width="2.1"/>
<path d="M832.0,91.0C831.2,91.3 831.5,91.4 827.4,92.7C823.3,94.0 813.7,96.1 807.2,98.9C800.7,101.8 797.3,106.4 788.5,109.8C779.7,113.2 765.2,116.5 754.3,119.1C743.4,121.7 732.3,123.0 723.2,125.3C714.1,127.6 705.1,130.0 699.9,133.1C694.7,136.2 696.0,140.6 692.1,144.0C688.2,147.4 682.9,150.1 676.5,153.3C670.1,156.6 660.8,160.8 654.0,163.5C647.2,166.2 641.5,167.5 636.0,169.5C630.5,171.5 626.8,172.6 620.9,175.5C615.0,178.4 606.7,182.8 600.8,187.0C594.9,191.2 590.3,197.8 585.7,201.0C581.1,204.2 579.9,205.5 573.2,206.5C566.5,207.5 553.9,205.4 545.5,207.0C537.1,208.6 529.2,212.2 522.9,215.8C516.6,219.4 512.0,224.8 507.8,228.3C503.6,231.9 497.8,235.6 497.8,237.1C497.8,238.6 503.2,237.5 507.8,237.1C512.4,236.7 520.4,234.0 525.4,234.6C530.4,235.2 535.0,237.4 537.5,240.5C540.0,243.6 539.0,249.4 540.5,253.0C542.0,256.6 542.6,261.3 546.7,262.0C550.8,262.7 558.6,259.8 565.0,257.0C571.4,254.2 578.0,249.0 585.0,245.2C592.0,241.4 599.3,238.5 606.8,234.3C614.3,230.1 623.0,224.4 630.2,220.1C637.5,215.8 644.7,211.2 650.3,208.4C655.9,205.6 660.0,204.0 663.7,203.4C667.4,202.8 671.1,203.4 672.5,204.7C673.9,206.0 672.9,209.6 672.0,211.0C671.1,212.4 671.7,210.5 667.0,213.4C662.3,216.3 650.6,224.6 643.6,228.5C636.6,232.4 629.0,234.7 625.2,236.9C621.4,239.1 623.5,240.2 621.0,241.9C618.5,243.6 615.4,244.1 610.2,246.9C605.1,249.7 595.7,255.0 590.1,258.6C584.5,262.2 581.7,264.1 576.7,268.6C571.7,273.1 564.8,280.8 560.0,285.4C555.2,290.0 552.8,294.0 548.2,296.0C543.6,298.0 539.3,295.4 532.6,297.5C525.9,299.6 514.0,305.0 507.8,308.4C501.6,311.8 498.2,314.2 495.3,317.8C492.4,321.4 491.2,326.6 490.7,330.2C490.2,333.8 490.6,335.9 492.2,339.5C493.8,343.1 497.7,347.3 500.0,352.0C502.3,356.7 505.9,363.4 506.2,367.5C506.4,371.6 504.4,374.3 501.5,376.9C498.6,379.5 494.8,381.3 489.1,383.1C483.4,384.9 473.0,387.2 467.3,387.7C461.6,388.2 458.3,387.8 454.9,386.2C451.5,384.6 450.2,380.1 447.1,378.4C444.0,376.7 440.3,375.8 436.2,375.8C432.1,375.8 429.0,377.4 422.6,378.4C416.2,379.3 406.0,381.0 397.7,381.5C389.4,382.0 378.5,383.1 372.8,381.5C367.1,379.9 369.2,374.0 363.5,372.2C357.8,370.4 344.3,372.4 338.6,370.6C332.9,368.8 331.4,364.9 329.3,361.3C327.2,357.7 326.6,355.6 326.2,348.9C325.8,342.2 326.9,328.1 326.8,320.9C326.7,313.7 327.0,307.5 325.6,305.9C324.2,304.3 320.9,308.0 318.4,311.5C315.9,315.0 313.5,322.4 310.6,327.1C307.8,331.8 303.1,335.9 301.3,339.5C299.5,343.1 299.3,343.7 299.8,348.9C300.3,354.1 303.9,364.4 304.4,370.6C304.9,376.8 305.0,381.3 302.9,386.2C300.8,391.1 293.1,395.8 292.0,400.2C290.9,404.6 299.7,410.3 296.6,412.6C293.5,414.9 278.7,413.2 273.3,414.2C267.9,415.2 267.1,416.7 264.0,418.8C260.9,420.9 258.2,425.8 254.6,426.6C251.0,427.4 246.3,424.2 242.2,423.5C238.1,422.8 234.6,422.6 230.0,422.6C225.4,422.7 219.5,424.3 214.8,423.8C210.1,423.3 206.3,422.4 201.7,419.6C197.1,416.8 191.3,409.3 187.3,407.0C183.3,404.7 180.8,406.3 177.8,405.8C174.8,405.3 172.0,405.0 169.4,404.0C166.8,403.0 164.6,402.1 162.3,399.9C160.0,397.7 158.7,392.9 155.5,390.7C152.3,388.5 146.3,387.1 143.0,386.9C139.7,386.7 137.1,387.7 135.4,389.4C133.7,391.1 133.7,394.2 132.9,396.9C132.1,399.6 131.2,405.1 130.4,405.7C129.6,406.3 128.0,403.6 127.9,400.7C127.8,397.8 130.3,390.8 129.9,388.1C129.5,385.4 127.6,385.2 125.4,384.4C123.2,383.6 118.4,385.4 116.6,383.1C114.8,380.9 114.4,374.4 114.5,370.9C114.6,367.4 115.9,364.6 117.4,362.2C118.9,359.8 122.5,359.0 123.7,356.4C124.9,353.8 125.5,348.2 124.5,346.4C123.5,344.6 119.8,344.7 117.4,345.4C115.0,346.1 112.5,349.3 110.3,350.4C108.1,351.5 106.5,352.0 104.5,352.2C102.5,352.4 100.5,350.7 98.3,351.3C96.1,351.9 92.8,355.3 91.1,355.9C89.4,356.5 89.0,356.1 88.2,354.9C87.4,353.6 86.6,350.7 86.4,348.4C86.2,346.1 85.7,343.7 86.8,341.0C87.9,338.3 91.6,334.1 92.8,332.0C94.0,329.9 95.1,330.3 93.8,328.4C92.5,326.5 87.5,318.6 84.9,320.5C82.3,322.4 80.2,341.8 78.2,340.1C76.2,338.4 73.7,318.2 72.6,310.3C71.5,302.4 72.7,297.3 71.4,292.7C70.2,288.1 68.3,283.9 65.1,282.6C61.9,281.3 55.2,284.6 52.0,285.0C48.8,285.4 47.0,285.0 46.0,285.0" stroke-width="2.1"/>
<path d="M78.4,350.2C79.7,349.1 81.5,350.8 82.2,354.2C82.9,357.6 82.4,362.2 82.7,370.6C83.0,379.0 82.7,398.6 83.9,404.5C85.2,410.4 88.3,404.4 90.2,405.7C92.1,406.9 94.4,409.7 95.2,412.0C96.0,414.3 95.8,418.0 95.2,419.5C94.6,421.0 93.2,421.4 91.5,420.8C89.8,420.2 87.1,416.2 85.2,415.8C83.3,415.4 81.4,416.0 80.2,418.3C79.0,420.6 78.9,431.7 78.1,429.6C77.2,427.5 75.7,413.9 75.1,405.7C74.5,397.5 74.5,388.1 74.4,380.6C74.3,373.1 73.9,365.6 74.6,360.5C75.3,355.4 77.1,351.2 78.4,350.2Z" stroke-width="2.1"/>
<path d="M628.0,270.0C628.0,269.2 630.2,268.2 632.0,268.0C633.8,267.8 638.0,267.9 639.0,268.5C640.0,269.1 639.2,270.8 638.0,271.5C636.8,272.2 633.7,273.2 632.0,273.0C630.3,272.8 628.0,270.8 628.0,270.0Z" stroke-width="2.1"/>
<path d="M46.0,540.2C47.1,540.2 49.0,539.1 52.7,540.2C56.4,541.3 62.8,544.9 68.2,547.0C73.6,549.1 79.0,550.9 85.0,553.0C91.0,555.1 97.1,556.7 104.5,559.5C111.9,562.3 120.8,566.7 129.5,569.7C138.2,572.7 147.2,575.2 156.7,577.7C166.1,580.2 177.5,582.2 186.2,584.5C194.9,586.8 201.6,588.7 208.9,591.3C216.2,593.9 223.5,597.0 230.0,600.0C236.5,603.0 240.4,606.6 247.9,609.0C255.4,611.4 267.3,613.1 274.8,614.3C282.3,615.5 286.7,614.6 292.7,616.1C298.7,617.6 303.1,620.6 310.6,623.3C318.1,626.0 328.5,630.2 337.5,632.3C346.5,634.4 356.7,636.1 364.4,635.8C372.1,635.5 378.2,632.3 383.6,630.3C389.0,628.3 389.8,625.3 397.0,623.6C404.2,621.9 417.1,621.9 427.1,620.2C437.1,618.5 448.3,616.3 457.2,613.5C466.1,610.7 475.4,607.7 480.7,603.5C486.0,599.3 488.7,592.9 489.0,588.4C489.3,583.9 486.6,581.1 482.3,576.7C478.1,572.3 469.8,565.4 463.5,562.0C457.2,558.6 452.2,557.4 444.8,556.5C437.4,555.6 424.7,556.4 419.0,556.5C413.3,556.6 414.1,555.6 410.4,557.4C406.7,559.2 403.7,565.8 397.0,567.5C390.3,569.2 375.4,568.3 370.2,567.5C364.9,566.7 368.3,566.7 365.5,562.7C362.7,558.7 357.1,549.1 353.5,543.5C349.9,537.9 345.9,534.0 343.9,529.2C341.9,524.4 343.1,520.0 341.5,514.8C339.9,509.6 337.2,503.7 334.4,498.1C331.6,492.5 326.4,484.9 324.8,481.3C323.2,477.7 323.6,477.8 324.8,476.6C326.0,475.4 328.8,475.4 332.0,474.2C335.2,473.0 341.1,472.2 343.9,469.4C346.7,466.6 348.3,460.6 348.7,457.4C349.1,454.2 348.7,453.4 346.3,450.2C343.9,447.0 336.0,442.3 334.4,438.3C332.8,434.3 334.3,430.3 336.7,426.3C339.1,422.3 343.5,417.6 348.7,414.4C353.9,411.2 360.6,409.1 367.8,407.2C375.0,405.3 385.4,402.5 391.8,402.9C398.2,403.3 401.7,407.7 406.1,409.6C410.5,411.5 414.1,412.0 418.1,414.4C422.1,416.8 424.8,422.7 430.0,423.9C435.2,425.1 442.4,422.8 449.2,421.5C456.0,420.2 462.6,417.4 471.0,416.3C479.4,415.2 492.4,416.3 499.9,415.0C507.3,413.7 509.1,410.6 515.7,408.4C522.3,406.2 532.3,402.4 539.3,401.8C546.3,401.2 552.9,402.3 557.7,404.5C562.5,406.7 564.7,413.9 568.2,415.0C571.7,416.1 575.6,413.9 578.7,411.0C581.8,408.1 583.1,400.8 586.6,397.9C590.1,395.0 595.8,395.0 599.8,393.9C603.8,392.8 606.8,393.4 610.3,391.3C613.8,389.2 616.2,386.7 620.5,381.1C624.8,375.5 630.9,364.8 636.1,357.8C641.3,350.8 647.5,342.0 651.6,339.1C655.8,336.2 656.3,339.1 661.0,340.7C665.7,342.2 672.9,344.8 679.6,348.4C686.3,352.0 696.7,358.2 701.4,362.4C706.1,366.5 706.0,368.9 707.6,373.3C709.2,377.7 709.7,383.7 710.7,388.9C711.8,394.1 711.8,399.0 713.9,404.4C716.0,409.8 720.8,418.9 723.3,421.5C725.8,424.1 727.1,424.6 729.2,420.3C731.3,416.1 734.7,403.8 736.0,396.0C737.3,388.2 736.8,382.3 737.2,373.3C737.7,364.3 738.5,352.6 738.7,342.2C739.0,331.8 738.7,318.7 738.7,311.1C738.7,303.5 739.2,302.0 738.7,296.4C738.2,290.8 735.6,285.0 735.6,277.7C735.6,270.4 736.8,257.5 738.7,252.8C740.6,248.1 742.1,251.0 747.0,249.5C751.9,248.0 762.5,247.3 768.0,243.6C773.5,239.9 775.7,230.9 779.9,227.1C784.1,223.2 786.6,223.3 793.0,220.5C799.4,217.7 812.3,212.4 818.0,210.0C823.7,207.6 824.7,207.2 827.4,206.0C830.1,204.8 832.9,203.5 834.0,203.0" stroke-width="2.1"/>
<path d="M723.5,431.7C724.5,433.1 727.3,439.4 727.8,443.2C728.3,447.0 727.5,449.4 726.3,454.7C725.1,460.0 723.0,468.6 720.6,474.8C718.2,481.0 714.6,486.5 712.0,492.0C709.4,497.5 707.7,503.5 704.8,507.8C701.9,512.1 697.2,513.7 694.8,517.8C692.4,521.9 691.7,527.4 690.5,532.2C689.3,537.0 688.3,541.7 687.6,546.5C686.9,551.3 687.6,556.6 686.2,560.9C684.8,565.2 682.4,570.4 679.0,572.3C675.6,574.2 669.7,573.2 666.1,572.3C662.5,571.3 660.9,568.5 657.5,566.6C654.1,564.7 650.3,562.3 646.0,560.9C641.7,559.5 636.4,558.0 631.6,558.0C626.8,558.0 622.1,559.5 617.3,560.9C612.5,562.3 607.3,565.6 603.0,566.6C598.7,567.6 594.9,568.0 591.5,566.6C588.1,565.2 584.8,560.9 582.9,558.0C581.0,555.1 577.6,552.3 580.0,549.4C582.4,546.5 591.5,543.4 597.2,540.8C602.9,538.2 607.7,534.6 614.4,533.6C621.1,532.6 630.7,535.2 637.4,535.0C644.1,534.8 649.3,533.9 654.6,532.2C659.9,530.5 664.7,528.4 669.0,525.0C673.3,521.6 678.2,514.7 680.4,512.1C682.5,509.5 683.3,510.2 681.9,509.2C680.5,508.2 673.9,508.2 671.8,506.3C669.6,504.4 667.6,501.5 669.0,497.7C670.4,493.9 677.5,489.1 680.4,483.4C683.3,477.7 684.3,469.5 686.2,463.3C688.1,457.1 689.5,449.5 691.9,446.1C694.3,442.8 698.1,443.2 700.5,443.2C702.9,443.2 704.6,444.9 706.3,446.1C708.0,447.3 709.2,450.9 710.6,450.4C712.0,449.9 713.0,445.8 714.9,443.2C716.8,440.6 720.6,436.5 722.0,434.6C723.4,432.7 722.5,430.3 723.5,431.7Z" stroke-width="2.1"/>
<path d="M617.3,558.0C619.4,555.1 629.0,553.7 631.6,553.7C634.2,553.7 634.2,555.4 633.0,558.0C631.8,560.6 626.9,567.4 624.5,569.5C622.1,571.6 619.9,572.8 618.7,570.9C617.5,569.0 615.1,560.9 617.3,558.0Z" stroke-width="2.1"/>
<path d="M593.0,594.0C593.3,592.0 596.0,585.4 598.0,583.0C600.0,580.6 603.2,579.7 605.0,579.5C606.8,579.3 609.0,579.8 608.7,582.0C608.4,584.2 605.1,590.8 603.0,593.0C600.9,595.2 597.7,595.1 596.0,595.3C594.3,595.5 592.7,596.0 593.0,594.0Z" stroke-width="2.1"/>
<path d="M180.6,484.4C181.6,483.4 189.5,480.5 193.1,481.3C196.7,482.1 200.6,486.8 202.4,489.1C204.2,491.4 205.0,494.8 204.0,495.3C203.0,495.8 199.0,493.5 196.2,492.2C193.3,490.9 189.5,488.8 186.9,487.5C184.3,486.2 179.6,485.4 180.6,484.4Z" stroke-width="2.1"/>
<path d="M200.9,472.0C201.6,471.3 205.4,470.5 208.0,470.4C210.6,470.3 215.4,470.7 216.4,471.5C217.4,472.3 216.1,474.6 214.0,475.1C211.9,475.6 206.2,475.0 204.0,474.5C201.8,474.0 200.2,472.7 200.9,472.0Z" stroke-width="2.1"/>
<path d="M139.1,504.5C139.2,503.2 141.8,500.8 143.0,500.9C144.2,500.9 146.2,503.5 146.1,504.8C146.0,506.1 143.7,508.7 142.5,508.6C141.3,508.6 139.0,505.8 139.1,504.5Z" stroke-width="2.1"/>
<path d="M172.5,516.0C172.6,514.5 175.5,511.7 177.0,511.8C178.5,511.9 181.6,515.0 181.5,516.5C181.4,518.0 178.0,521.1 176.5,521.0C175.0,520.9 172.4,517.5 172.5,516.0Z" stroke-width="2.1"/>
<path d="M232.0,502.0C232.0,500.2 233.7,500.5 234.5,501.5C235.3,502.5 236.6,506.2 236.6,508.0C236.6,509.8 235.3,513.4 234.5,512.4C233.7,511.4 232.0,503.8 232.0,502.0Z" stroke-width="2.1"/>
<path d="M244.4,522.0C244.7,521.3 246.7,519.8 249.0,520.2C251.3,520.6 254.5,523.0 258.0,524.5C261.5,526.0 266.6,527.8 270.0,529.0C273.4,530.2 278.6,531.1 278.6,532.0C278.6,532.9 273.4,534.7 270.0,534.2C266.6,533.7 261.8,530.6 258.0,529.0C254.2,527.4 249.3,525.7 247.0,524.5C244.7,523.3 244.1,522.7 244.4,522.0Z" stroke-width="2.1"/>
<path d="M324.0,560.0C323.8,558.8 329.1,558.5 332.0,558.8C334.9,559.1 341.4,560.8 341.6,562.0C341.8,563.2 335.9,566.3 333.0,566.0C330.1,565.7 324.2,561.2 324.0,560.0Z" stroke-width="2.1"/>
<path d="M343.0,567.4C339.9,567.9 350.5,570.6 356.0,573.0C361.5,575.4 371.2,580.3 376.0,581.8C380.8,583.3 383.6,583.3 384.6,581.8C385.6,580.3 383.5,574.9 381.8,573.0C380.1,571.1 381.1,571.2 374.6,570.3C368.1,569.4 346.1,566.9 343.0,567.4Z" stroke-width="2.1"/>
<path d="M405.0,458.0C405.2,457.6 406.2,456.8 406.5,457.0C406.8,457.2 407.2,458.6 407.0,459.0C406.8,459.4 405.8,459.7 405.5,459.5C405.2,459.3 404.8,458.4 405.0,458.0Z" stroke-width="2.1"/>
<path d="M419.7,464.9C418.8,463.1 423.4,462.9 426.3,463.6C429.2,464.3 432.5,469.8 436.8,468.9C441.1,468.0 447.1,460.3 452.0,458.0C456.9,455.7 459.7,455.8 466.0,455.0C472.3,454.2 478.7,453.7 490.0,453.0C501.3,452.3 523.0,452.5 534.0,451.0C545.0,449.5 547.5,447.3 556.0,444.0C564.5,440.7 577.8,434.6 585.0,431.0C592.2,427.4 594.5,423.3 599.0,422.5C603.5,421.7 607.2,424.6 612.0,426.3C616.8,428.0 623.2,431.7 628.0,432.5C632.8,433.3 637.5,431.6 641.0,431.0C644.5,430.4 646.2,430.0 649.0,428.9C651.8,427.8 654.6,424.6 657.5,424.6C660.4,424.6 665.8,425.4 666.5,429.0C667.2,432.6 663.5,441.7 662.0,446.0C660.5,450.3 658.7,451.1 657.5,454.7C656.3,458.3 656.0,463.8 654.6,467.6C653.2,471.4 650.8,474.0 648.9,477.6C647.0,481.2 644.5,484.3 643.1,489.1C641.7,493.9 642.7,502.7 640.3,506.3C637.9,509.9 634.1,509.1 628.8,510.6C623.5,512.1 616.8,513.0 608.7,515.5C600.6,518.0 588.1,521.9 580.0,525.5C571.9,529.1 566.7,533.6 560.0,537.0C553.3,540.4 546.6,543.0 540.0,545.9C533.4,548.8 525.1,551.6 520.4,554.5C515.7,557.4 515.4,561.6 511.8,563.1C508.2,564.6 503.4,564.5 498.9,563.8C494.3,563.1 489.1,560.8 484.5,558.8C479.9,556.8 474.2,554.2 471.6,551.6C469.0,549.0 468.5,546.8 468.7,543.0C468.9,539.2 473.0,532.3 473.0,528.7C473.0,525.1 471.6,523.2 468.7,521.5C465.8,519.8 461.1,520.0 455.8,518.6C450.6,517.2 441.2,514.8 437.2,512.9C433.1,511.0 432.4,509.3 431.5,507.2C430.6,505.1 431.3,502.9 431.5,500.0C431.7,497.1 432.9,494.2 432.9,489.9C432.9,485.6 433.7,478.3 431.5,474.1C429.3,469.9 420.6,466.6 419.7,464.9Z" stroke-width="2.1"/>
<path d="M834.0,309.0C832.9,309.3 831.9,307.5 827.4,311.0C822.9,314.5 813.7,326.2 807.2,329.8C800.7,333.4 793.7,330.3 788.5,332.9C783.3,335.5 780.2,340.6 776.1,345.3C772.0,350.0 766.5,356.2 763.6,360.9C760.8,365.6 759.8,366.1 759.0,373.3C758.2,380.6 758.7,396.3 759.0,404.4C759.3,412.5 759.5,416.2 761.0,422.0C762.5,427.8 765.5,434.5 768.0,439.0C770.5,443.5 773.3,445.0 776.1,449.0C778.9,453.0 782.4,458.8 785.0,463.0C787.6,467.2 789.3,469.5 792.0,474.0C794.7,478.5 797.7,484.6 801.0,490.0C804.3,495.4 808.7,501.3 811.7,506.1C814.7,510.9 816.5,514.9 819.0,519.0C821.5,523.1 824.5,527.5 827.0,531.0C829.5,534.5 832.8,538.5 834.0,540.0" stroke-width="2.1"/>
<path d="M46.0,564.0C47.1,564.0 49.0,563.0 52.7,564.0C56.4,565.0 63.0,567.4 68.2,569.7C73.4,572.0 77.7,575.2 84.1,577.7C90.5,580.2 99.2,582.0 106.8,584.5C114.4,587.0 122.7,590.5 129.5,592.4C136.3,594.3 142.0,594.9 147.6,595.8C153.2,596.6 158.1,596.9 163.0,597.5C167.9,598.1 171.3,598.4 177.1,599.2C182.9,600.1 190.4,600.5 197.6,602.6C204.8,604.7 214.9,609.6 220.3,611.7C225.7,613.8 226.0,613.3 230.0,615.2C234.0,617.1 239.2,620.6 244.3,623.3C249.4,626.0 254.5,629.8 260.5,631.4C266.5,633.0 273.3,631.6 280.2,633.2C287.1,634.8 295.1,638.7 301.7,641.2C308.3,643.7 313.6,646.3 319.6,648.4C325.6,650.5 331.5,652.3 337.5,653.8C343.5,655.3 348.3,656.4 355.4,657.3C362.5,658.2 372.5,658.6 380.0,659.1C387.5,659.6 391.4,661.9 400.4,660.4C409.4,658.9 423.8,653.6 433.8,650.3C443.8,646.9 453.4,643.4 460.6,640.3C467.9,637.2 470.6,634.7 477.3,631.9C484.0,629.1 492.3,625.5 500.7,623.6C509.1,621.7 518.6,619.1 527.5,620.2C536.4,621.3 547.2,628.8 554.3,630.3C561.4,631.8 560.5,628.1 570.0,629.2C579.5,630.4 600.9,637.5 611.5,637.2C622.1,636.9 625.8,630.8 633.8,627.6C641.8,624.4 648.7,620.9 659.3,618.0C669.9,615.1 688.0,610.5 697.6,610.0C707.2,609.5 709.0,613.9 717.0,615.2C725.0,616.6 736.1,619.1 745.7,618.1C755.3,617.1 766.3,613.3 774.4,609.5C782.5,605.7 788.3,599.4 794.5,595.1C800.7,590.8 806.3,588.0 811.7,583.7C817.1,579.4 823.3,572.4 827.0,569.3C830.7,566.2 832.8,565.7 834.0,565.0" stroke-width="2.1"/>
<path d="M520.1,471.6C519.5,472.9 521.7,477.0 523.0,478.7C524.3,480.4 526.1,482.1 528.0,481.6C529.9,481.1 532.7,476.5 534.4,475.9C536.1,475.3 535.7,477.5 538.0,478.0C540.3,478.5 544.3,479.4 548.0,478.7C551.7,478.0 555.9,475.8 560.0,474.0C564.1,472.2 568.9,470.2 572.4,468.0C575.9,465.8 578.6,462.1 581.0,460.8C583.4,459.5 584.0,461.5 586.8,460.1C589.5,458.7 596.4,454.5 597.5,452.2C598.6,449.9 596.0,447.1 593.2,446.5C590.5,445.9 584.4,447.1 581.0,448.6C577.6,450.2 576.0,454.2 573.1,455.8C570.2,457.4 566.8,456.9 563.8,458.0C560.8,459.1 558.0,460.6 555.2,462.3C552.5,464.0 550.4,466.8 547.3,468.0C544.2,469.2 540.1,468.9 536.6,469.4C533.1,469.9 529.2,470.5 526.5,470.9C523.8,471.3 520.7,470.3 520.1,471.6Z" stroke-width="2.1"/>
<path d="M501.5,478.0C501.2,476.2 506.0,474.1 508.6,475.2C511.2,476.3 516.2,482.6 517.2,484.5C518.2,486.4 515.6,486.4 514.4,486.6C513.2,486.8 512.2,487.3 510.1,485.9C508.0,484.5 501.8,479.8 501.5,478.0Z" stroke-width="2.1"/>
<path d="M46.0,594.7C47.1,594.7 49.4,593.8 52.7,594.7C56.0,595.7 62.6,599.4 65.9,600.4C69.2,601.4 69.5,599.4 72.7,600.8C75.9,602.2 82.0,607.8 85.2,609.0C88.4,610.2 89.9,609.4 92.0,608.3C94.1,607.2 93.7,602.6 97.7,602.6C101.7,602.6 109.4,605.1 115.8,608.3C122.2,611.5 129.5,618.7 136.3,621.9C143.1,625.1 149.9,626.5 156.7,627.6C163.5,628.8 169.9,627.8 177.1,628.8C184.3,629.8 193.0,632.9 199.8,633.3C206.6,633.7 213.0,631.2 218.0,631.0C223.0,630.8 225.0,631.0 230.0,632.3C235.0,633.5 240.4,636.1 247.9,638.5C255.4,640.9 266.7,644.1 274.8,646.6C282.9,649.1 291.5,651.4 296.3,653.8C301.1,656.2 303.4,658.7 303.5,660.9C303.6,663.1 297.9,665.1 297.2,667.2C296.4,669.3 295.3,671.5 299.0,673.5C302.7,675.5 313.2,678.0 319.6,678.9C326.0,679.8 331.5,678.6 337.5,678.9C343.5,679.2 348.3,680.5 355.4,680.6C362.5,680.7 372.5,680.3 380.0,679.7C387.5,679.1 394.2,676.4 400.4,677.1C406.6,677.8 410.4,682.7 417.1,683.8C423.8,684.9 432.1,684.6 440.5,683.8C448.9,683.0 459.5,681.6 467.3,678.8C475.1,676.0 480.1,671.0 487.4,667.1C494.6,663.2 505.2,657.3 510.8,655.3C516.4,653.3 516.9,653.6 520.8,655.3C524.7,657.0 530.9,663.4 534.2,665.4C537.6,667.4 540.1,665.7 540.9,667.1C541.7,668.5 537.5,672.1 539.2,673.8C540.9,675.5 545.8,677.1 550.9,677.1C556.0,677.1 563.6,675.1 570.0,673.8C576.4,672.5 582.2,670.4 589.1,669.1C596.0,667.8 603.8,668.3 611.5,665.9C619.2,663.5 629.0,657.9 635.4,654.7C641.8,651.5 644.1,649.1 649.7,646.7C655.3,644.3 663.9,640.8 668.9,640.4C673.9,640.0 676.3,642.6 680.0,644.4C683.7,646.2 685.0,651.0 691.3,651.0C697.5,651.0 708.4,646.8 717.5,644.4C726.6,642.0 734.8,639.5 745.7,636.9C756.7,634.2 774.8,630.1 783.2,628.5C791.6,626.9 793.2,627.4 796.3,627.5C799.4,627.6 799.5,630.3 802.0,629.4C804.5,628.5 807.2,624.7 811.3,621.9C815.3,619.1 822.5,614.6 826.3,612.5C830.1,610.4 832.7,609.6 834.0,609.0" stroke-width="2.1"/>
</g>
<g fill="none" stroke="#000" stroke-width="1.45" stroke-linejoin="round"><path d="M781.6,60.0 L781.6,68.6 L781.6,75.1 L768.7,94.5 L760.1,105.2 L755.8,118.2 L754.7,131.1 L752.5,146.2 L751.5,161.2 L751.5,165.6 L752.5,167.7 L754.7,163.4 L755.8,154.8 L759.0,149.4 L763.3,156.9 L768.7,165.6 L773.0,173.1 L777.3,177.4 L778.4,169.9 L781.6,173.1 L780.5,176.3 L783.8,180.6 L788.1,187.1 L792.4,193.6 L791.3,204.3 L790.2,210.8 L785.9,213.0 L782.7,219.4 L784.9,225.9 L781.6,230.2 L778.7,232.9 L781.6,237.2 L791.6,247.2 L797.4,258.7 L801.7,275.9 L803.1,296.0 L801.7,316.1 L797.4,339.1 L790.2,359.2 L785.9,379.3 L784.5,390.8 L784.5,408.0 L774.4,425.2 L762.9,442.5 L758.5,450.0 L748.6,453.9 L741.8,458.4 L744.2,462.0 L745.4,459.6 L751.4,459.6 L757.3,463.2 L762.1,470.3 L766.9,473.9 L769.4,480.0 L771.8,484.8 L774.8,487.2 L776.6,492.0 L777.2,495.6 L777.5,499.8 L779.0,502.8 L780.8,504.0 L782.0,501.6 L785.0,500.4 L787.4,499.8 L790.4,501.0 L789.8,497.4 L790.4,493.2"/><path d="M788.1,219.4 L786.0,222.0 L785.9,230.2 L783.0,233.0"/><path d="M779.0,490.8 L782.6,489.0 L781.0,491.5 L785.0,493.2 L786.8,489.6 L791.0,484.8 L795.1,484.8"/><path d="M785.0,500.4 L784.0,504.0 L784.4,508.7 L786.8,509.9 L789.0,508.0 L789.8,505.5"/><path d="M786.8,509.9 L788.0,514.7 L789.2,519.5 L791.0,523.1 L795.7,524.3 L800.5,521.9 L804.1,520.7 L807.0,519.5 L811.2,519.4 L820.7,518.8 L830.0,518.2"/><path d="M782.0,517.7 L776.6,523.1 L776.0,530.0 L777.7,533.7 L778.9,545.0 L778.5,549.6 L779.1,555.6 L780.9,561.5 L784.5,557.9 L788.1,554.4 L791.7,557.9 L797.7,561.5 L804.8,559.1 L813.2,557.3 L815.0,553.8 L816.8,557.9 L830.0,558.5"/><path d="M785.0,519.5 L787.4,524.3 L791.0,526.7 L797.0,527.3 L803.0,525.5 L806.4,527.8"/><path d="M780.9,561.5 L778.5,565.1 L779.7,569.9 L784.5,573.5 L789.3,575.9 L795.3,580.7 L800.1,579.5 L801.3,577.1 L807.2,574.7 L813.2,571.1"/><path d="M801.3,580.7 L800.1,585.5 L802.5,590.2 L806.0,591.4 L812.0,592.0 L818.0,590.0 L823.0,586.0 L830.0,584.0"/><path d="M378.0,352.0 L382.0,347.0 L392.0,346.0 L395.0,351.0 L390.0,357.0 L380.0,358.0Z"/><path d="M390.0,363.0 L395.0,360.0 L400.0,362.0 L398.0,366.0 L392.0,366.0Z"/><path d="M406.0,368.0 L409.0,367.0 L410.0,369.0 L407.0,370.0Z"/><path d="M420.0,374.0 L428.0,372.0 L438.0,375.0 L435.0,379.0 L424.0,379.0Z"/><path d="M486.0,364.0 L490.0,361.0 L491.0,372.0 L487.0,374.0Z"/><path d="M488.0,398.0 L492.0,392.0 L498.0,394.0 L500.0,400.0 L494.0,404.0 L489.0,403.0Z"/><path d="M452.0,438.0 L456.0,437.0 L460.0,447.0 L462.0,454.0 L455.0,455.0 L450.0,447.0Z"/><path d="M474.0,437.0 L477.0,434.0 L480.0,437.0 L478.0,444.0 L474.0,444.0Z"/><path d="M416.0,451.0 L421.0,449.0 L425.0,452.0 L422.0,458.0 L416.0,457.0Z"/><path d="M405.0,457.0 L407.0,456.5 L408.0,459.0 L405.5,459.5Z"/><path d="M783.0,214.0 L788.5,207.5 L791.5,212.0 L789.0,221.0 L785.0,225.5 L781.5,220.5Z"/><path d="M782.0,229.0 L787.5,225.5 L789.0,230.5 L784.0,234.0Z"/><path d="M227.5,496.5 L229.0,496.3 L229.2,498.0 L227.6,498.2Z"/><path d="M809.6,596.0 L813.0,592.6 L816.8,594.0 L815.0,599.8 L811.0,599.0Z"/><path d="M819.2,596.0 L822.0,589.0 L827.6,587.8 L827.6,599.8 L821.0,599.8Z"/><path d="M797.7,611.0 L803.0,609.4 L809.6,612.0 L806.0,615.4 L800.0,614.0Z"/><path d="M814.4,614.0 L817.0,608.0 L822.2,607.6 L821.0,612.0 L816.0,614.8Z"/><path d="M806.0,624.0 L809.0,622.5 L810.8,624.5 L807.0,626.1Z"/><path d="M807.2,632.0 L812.0,628.0 L820.0,627.3 L825.2,630.0 L820.0,635.7 L810.0,635.7Z"/></g>
<text x="0" y="0" font-size="13.9" text-anchor="middle" dominant-baseline="central" textLength="17.5" lengthAdjust="spacingAndGlyphs" fill="#000" transform="translate(72,132) rotate(-62)">20</text>
<text x="0" y="0" font-size="13.9" text-anchor="middle" dominant-baseline="central" textLength="17.5" lengthAdjust="spacingAndGlyphs" fill="#000" transform="translate(618,228) rotate(-30)">20</text>
<text x="0" y="0" font-size="13.9" text-anchor="middle" dominant-baseline="central" textLength="17.5" lengthAdjust="spacingAndGlyphs" fill="#000" transform="translate(78,394.5) rotate(90)">20</text>
<text x="0" y="0" font-size="13.9" text-anchor="middle" dominant-baseline="central" textLength="17.5" lengthAdjust="spacingAndGlyphs" fill="#000" transform="translate(177,479) rotate(-18)">40</text>
<text x="0" y="0" font-size="13.9" text-anchor="middle" dominant-baseline="central" textLength="17.5" lengthAdjust="spacingAndGlyphs" fill="#000" transform="translate(266,524) rotate(22)">40</text>
<text x="0" y="0" font-size="13.9" text-anchor="middle" dominant-baseline="central" textLength="17.5" lengthAdjust="spacingAndGlyphs" fill="#000" transform="translate(90,556) rotate(20)">40</text>
<text x="0" y="0" font-size="13.9" text-anchor="middle" dominant-baseline="central" textLength="17.5" lengthAdjust="spacingAndGlyphs" fill="#000" transform="translate(363,570) rotate(15)">40</text>
<text x="0" y="0" font-size="13.9" text-anchor="middle" dominant-baseline="central" textLength="17.5" lengthAdjust="spacingAndGlyphs" fill="#000" transform="translate(694.5,518) rotate(-62)">40</text>
<text x="0" y="0" font-size="13.9" text-anchor="middle" dominant-baseline="central" textLength="17.5" lengthAdjust="spacingAndGlyphs" fill="#000" transform="translate(163,598) rotate(5)">60</text>
<text x="0" y="0" font-size="13.9" text-anchor="middle" dominant-baseline="central" textLength="17.5" lengthAdjust="spacingAndGlyphs" fill="#000" transform="translate(655,467) rotate(-68)">60</text>
<text x="0" y="0" font-size="13.9" text-anchor="middle" dominant-baseline="central" textLength="17.5" lengthAdjust="spacingAndGlyphs" fill="#000" transform="translate(792,472) rotate(60)">60</text>
<text x="0" y="0" font-size="13.9" text-anchor="middle" dominant-baseline="central" textLength="17.5" lengthAdjust="spacingAndGlyphs" fill="#000" transform="translate(560.2,472.3) rotate(-22)">80</text>
<text x="0" y="0" font-size="13.9" text-anchor="middle" dominant-baseline="central" textLength="17.5" lengthAdjust="spacingAndGlyphs" fill="#000" transform="translate(635,655) rotate(-27)">80</text>
</g>
<path d="M52.45,739.2 V68.6 H827.45 V739.5" fill="none" stroke="#000" stroke-width="1.2" stroke-linejoin="miter"/>
<rect x="72" y="75" width="736" height="20" fill="#fff"/>
<text x="79.4" y="90.8" font-size="13.9" textLength="227.6" lengthAdjust="spacingAndGlyphs">Start date: 2024-08-03_00:00:00</text>
<text x="544.8" y="90.8" font-size="13.9" textLength="253.1" lengthAdjust="spacingAndGlyphs">Valid_date: 2024-08-03T07:00:00.00</text>
<text x="0" y="0" font-size="13.9" textLength="51.4" lengthAdjust="spacingAndGlyphs" transform="translate(66.2,63.2) rotate(-90)">32.5°W</text>
<text x="0" y="0" font-size="13.9" textLength="38.3" lengthAdjust="spacingAndGlyphs" transform="translate(176.9,63.2) rotate(-90)">30°W</text>
<text x="0" y="0" font-size="13.9" textLength="51.4" lengthAdjust="spacingAndGlyphs" transform="translate(289.1,63.2) rotate(-90)">27.5°W</text>
<text x="0" y="0" font-size="13.9" textLength="38.3" lengthAdjust="spacingAndGlyphs" transform="translate(399.9,63.2) rotate(-90)">25°W</text>
<text x="0" y="0" font-size="13.9" textLength="51.4" lengthAdjust="spacingAndGlyphs" transform="translate(511.9,63.2) rotate(-90)">22.5°W</text>
<text x="0" y="0" font-size="13.9" textLength="38.3" lengthAdjust="spacingAndGlyphs" transform="translate(622.8,63.2) rotate(-90)">20°W</text>
<text x="0" y="0" font-size="13.9" textLength="51.4" lengthAdjust="spacingAndGlyphs" transform="translate(734.4,63.2) rotate(-90)">17.5°W</text>
<text x="44.8" y="110.7" font-size="13.9" text-anchor="end" textLength="34.9" lengthAdjust="spacingAndGlyphs">22°N</text>
<text x="44.8" y="206.9" font-size="13.9" text-anchor="end" textLength="34.9" lengthAdjust="spacingAndGlyphs">20°N</text>
<text x="44.8" y="303.1" font-size="13.9" text-anchor="end" textLength="34.9" lengthAdjust="spacingAndGlyphs">18°N</text>
<text x="44.8" y="399.3" font-size="13.9" text-anchor="end" textLength="34.9" lengthAdjust="spacingAndGlyphs">16°N</text>
<text x="44.8" y="495.5" font-size="13.9" text-anchor="end" textLength="34.9" lengthAdjust="spacingAndGlyphs">14°N</text>
<text x="44.8" y="591.7" font-size="13.9" text-anchor="end" textLength="34.9" lengthAdjust="spacingAndGlyphs">12°N</text>
<text x="44.8" y="687.9" font-size="13.9" text-anchor="end" textLength="34.9" lengthAdjust="spacingAndGlyphs">10°N</text>
<rect x="72.50" y="746.2" width="72.99" height="26.1" fill="#eef9e8"/>
<rect x="145.09" y="746.2" width="73.99" height="26.1" fill="#dcf1d7"/>
<rect x="218.68" y="746.2" width="73.99" height="26.1" fill="#ccebc5"/>
<rect x="292.27" y="746.2" width="73.99" height="26.1" fill="#afe0b8"/>
<rect x="365.86" y="746.2" width="73.99" height="26.1" fill="#8dd3be"/>
<rect x="439.45" y="746.2" width="73.99" height="26.1" fill="#69c2ca"/>
<rect x="513.04" y="746.2" width="73.99" height="26.1" fill="#47abcf"/>
<rect x="586.63" y="746.2" width="73.99" height="26.1" fill="#2a8bbe"/>
<rect x="660.22" y="746.2" width="73.99" height="26.1" fill="#0f6faf"/>
<rect x="733.81" y="746.2" width="74.99" height="26.1" fill="#084f91"/>
<rect x="72.5" y="746.2" width="735.9" height="26.1" fill="none" stroke="#000" stroke-width="1.0"/>
<line x1="72.5" y1="772.3" x2="72.5" y2="777.3" stroke="#000" stroke-width="1.1"/>
<text x="72.5" y="794.3" font-size="13.9" text-anchor="middle" textLength="8.75" lengthAdjust="spacingAndGlyphs">0</text>
<line x1="219.7" y1="772.3" x2="219.7" y2="777.3" stroke="#000" stroke-width="1.1"/>
<text x="219.7" y="794.3" font-size="13.9" text-anchor="middle" textLength="17.5" lengthAdjust="spacingAndGlyphs">20</text>
<line x1="366.9" y1="772.3" x2="366.9" y2="777.3" stroke="#000" stroke-width="1.1"/>
<text x="366.9" y="794.3" font-size="13.9" text-anchor="middle" textLength="17.5" lengthAdjust="spacingAndGlyphs">40</text>
<line x1="514.0" y1="772.3" x2="514.0" y2="777.3" stroke="#000" stroke-width="1.1"/>
<text x="514.0" y="794.3" font-size="13.9" text-anchor="middle" textLength="17.6" lengthAdjust="spacingAndGlyphs">60</text>
<line x1="661.2" y1="772.3" x2="661.2" y2="777.3" stroke="#000" stroke-width="1.1"/>
<text x="661.2" y="794.3" font-size="13.9" text-anchor="middle" textLength="17.6" lengthAdjust="spacingAndGlyphs">80</text>
<line x1="808.4" y1="772.3" x2="808.4" y2="777.3" stroke="#000" stroke-width="1.1"/>
<text x="808.4" y="794.3" font-size="13.9" text-anchor="middle" textLength="26.4" lengthAdjust="spacingAndGlyphs">100</text>
<text x="439.5" y="822.2" font-size="13.9" text-anchor="middle" textLength="207" lengthAdjust="spacingAndGlyphs">850 hPa relative humidity (%)</text>
</svg></body></html>
